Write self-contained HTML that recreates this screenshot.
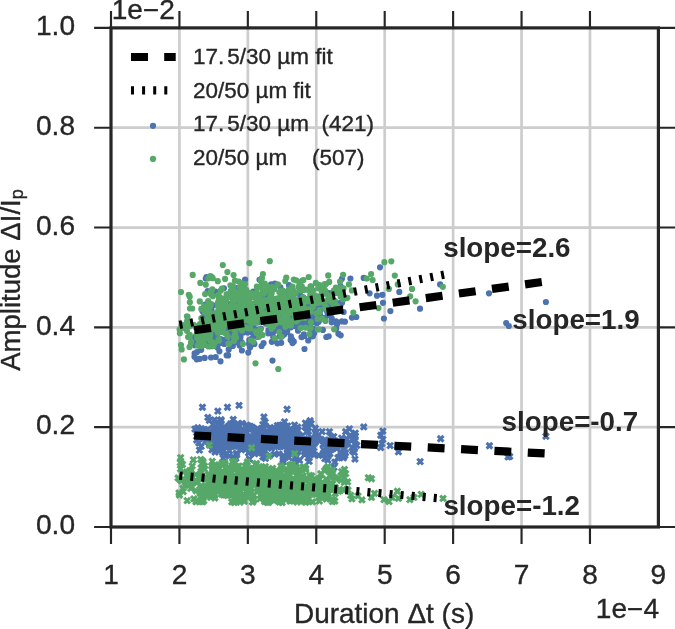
<!DOCTYPE html>
<html><head><meta charset="utf-8"><title>plot</title>
<style>html,body{margin:0;padding:0;background:#fff}svg{display:block}</style></head>
<body>
<svg width="675" height="629" viewBox="0 0 675 629" font-family="'Liberation Sans', sans-serif">
<rect width="675" height="629" fill="#fff"/>
<path d="M179.43 27.9 V527.0 M247.85 27.9 V527.0 M316.27 27.9 V527.0 M384.70 27.9 V527.0 M453.12 27.9 V527.0 M521.55 27.9 V527.0 M589.97 27.9 V527.0 M111.0 427.18 H658.4 M111.0 327.36 H658.4 M111.0 227.54 H658.4 M111.0 127.72 H658.4" stroke="#cdcdcd" stroke-width="2.7" fill="none"/>
<path d="M489.0 293.3h0 M545.9 302.0h0 M508.8 326.0h0 M506.2 323.0h0 M440.1 284.4h0 M420.0 308.7h0 M399.3 291.9h0 M380.0 267.3h0 M363.7 277.9h0 M350.4 278.5h0 M369.6 293.3h0 M377.0 295.7h0 M382.4 294.8h0 M383.0 302.8h0 M390.4 311.1h0 M383.9 318.5h0 M356.3 317.0h0 M351.9 317.6h0 M205.8 278.5h0 M206.5 277.0h0 M272.5 360.6h0 M220.5 361.3h0 M211.0 357.5h0 M304.5 349.0h0 M197.0 352.0h0 M206.9 321.7h0 M294.3 314.2h0 M293.4 307.1h0 M260.9 311.8h0 M336.7 292.5h0 M270.8 330.9h0 M290.2 303.8h0 M213.2 338.9h0 M264.4 319.3h0 M237.5 296.9h0 M238.7 318.8h0 M310.0 328.8h0 M237.7 302.3h0 M207.2 305.5h0 M248.2 293.2h0 M316.3 310.8h0 M241.3 318.6h0 M285.4 323.1h0 M315.0 322.1h0 M202.5 311.3h0 M287.7 322.1h0 M324.7 317.9h0 M233.9 331.2h0 M288.9 292.5h0 M320.6 301.9h0 M207.9 339.0h0 M278.8 319.6h0 M221.6 320.1h0 M230.7 312.1h0 M228.7 349.4h0 M242.6 310.3h0 M249.7 325.6h0 M289.0 326.1h0 M253.3 327.5h0 M229.8 313.4h0 M303.2 297.3h0 M221.0 325.9h0 M222.6 319.0h0 M252.9 333.6h0 M259.0 314.3h0 M239.3 311.9h0 M249.1 343.9h0 M228.3 333.1h0 M270.1 308.8h0 M250.0 347.6h0 M232.6 330.4h0 M257.9 312.9h0 M301.5 337.0h0 M242.5 329.3h0 M229.8 324.4h0 M279.2 306.4h0 M241.5 342.2h0 M292.4 302.1h0 M251.0 317.9h0 M232.2 307.2h0 M203.2 316.9h0 M216.8 324.5h0 M286.8 305.8h0 M230.4 323.0h0 M279.9 336.4h0 M341.9 321.4h0 M243.4 332.4h0 M213.0 305.4h0 M267.1 295.3h0 M239.0 328.7h0 M286.1 331.4h0 M338.4 333.7h0 M341.9 278.8h0 M308.1 313.2h0 M259.5 279.8h0 M301.1 300.2h0 M211.1 346.2h0 M275.4 303.6h0 M292.7 289.5h0 M231.9 331.0h0 M224.3 344.0h0 M207.7 314.0h0 M253.3 320.1h0 M280.1 327.3h0 M237.4 329.3h0 M256.4 319.3h0 M259.3 320.1h0 M283.5 307.7h0 M232.8 330.1h0 M296.2 324.1h0 M258.6 312.8h0 M247.2 318.3h0 M242.5 307.6h0 M316.9 318.7h0 M271.9 320.8h0 M298.0 330.7h0 M335.1 292.9h0 M204.3 336.4h0 M320.6 310.2h0 M220.5 341.8h0 M281.3 313.6h0 M296.9 306.3h0 M271.8 341.8h0 M265.5 323.2h0 M292.1 339.6h0 M215.4 291.5h0 M225.7 332.9h0 M314.1 333.2h0 M239.7 342.3h0 M283.1 300.4h0 M222.8 304.9h0 M304.6 298.7h0 M271.4 330.2h0 M196.4 340.2h0 M269.1 297.3h0 M273.0 329.2h0 M216.8 334.8h0 M286.4 330.0h0 M251.6 338.8h0 M299.6 300.0h0 M328.8 303.9h0 M212.1 324.6h0 M224.6 311.0h0 M273.8 305.2h0 M207.7 291.1h0 M224.8 326.8h0 M290.7 321.3h0 M281.2 342.8h0 M239.6 295.4h0 M305.1 321.4h0 M204.7 357.9h0 M267.1 323.8h0 M303.0 314.8h0 M332.9 301.1h0 M284.9 304.3h0 M220.5 339.4h0 M322.9 329.9h0 M311.2 318.1h0 M234.2 342.5h0 M280.7 319.7h0 M226.2 319.1h0 M307.0 313.6h0 M263.6 343.0h0 M239.1 341.4h0 M320.0 297.0h0 M272.9 333.1h0 M232.7 313.9h0 M196.4 327.8h0 M225.1 331.3h0 M311.4 336.4h0 M196.8 334.3h0 M201.2 349.8h0 M282.2 320.3h0 M218.8 326.0h0 M229.2 336.0h0 M198.6 340.5h0 M251.9 330.1h0 M249.3 340.2h0 M252.0 324.9h0 M213.1 341.0h0 M277.4 343.3h0 M243.5 328.2h0 M330.6 314.7h0 M331.7 318.3h0 M231.9 331.3h0 M202.2 323.3h0 M306.7 305.9h0 M320.8 304.7h0 M282.3 313.6h0 M237.8 342.6h0 M302.4 313.6h0 M279.4 330.9h0 M311.1 286.6h0 M194.6 353.4h0 M267.9 310.8h0 M250.2 344.6h0 M217.5 347.4h0 M316.2 319.9h0 M205.8 323.1h0 M273.1 311.8h0 M219.3 324.4h0 M241.9 350.5h0 M246.0 306.7h0 M224.9 340.5h0 M285.7 296.1h0 M232.1 297.2h0 M262.0 309.3h0 M258.8 307.3h0 M281.7 334.9h0 M249.7 343.5h0 M231.2 321.8h0 M249.3 308.2h0 M224.1 339.8h0 M304.0 316.5h0 M313.0 328.5h0 M207.6 337.1h0 M295.0 316.0h0 M260.8 317.4h0 M243.1 286.9h0 M283.2 311.4h0 M230.8 318.6h0 M304.6 314.0h0 M291.0 327.3h0 M238.5 332.5h0 M275.6 302.8h0 M226.6 355.3h0 M214.1 344.3h0 M270.0 309.5h0 M327.7 315.2h0 M245.1 279.7h0 M261.9 284.8h0 M264.9 309.2h0 M232.1 340.8h0 M251.4 324.3h0 M295.7 293.5h0 M330.2 297.7h0 M340.3 306.1h0 M235.7 330.3h0 M255.2 333.7h0 M200.9 332.9h0 M336.2 328.6h0 M315.4 308.1h0 M280.4 299.1h0 M273.2 337.0h0 M281.2 316.6h0 M287.2 295.7h0 M245.0 320.7h0 M282.7 325.2h0 M213.9 313.8h0 M302.8 308.3h0 M233.5 323.5h0 M278.0 325.7h0 M215.5 336.7h0 M225.8 324.8h0 M311.8 320.7h0 M223.8 306.8h0 M249.9 309.6h0 M263.5 293.2h0 M215.7 357.0h0 M300.1 295.1h0 M223.9 288.3h0 M263.8 315.3h0 M282.1 320.5h0 M280.4 287.3h0 M247.6 332.4h0 M311.5 321.6h0 M274.6 340.2h0 M319.6 310.1h0 M309.2 304.7h0 M218.8 300.6h0 M244.4 326.4h0 M237.0 329.4h0 M242.6 318.8h0 M275.4 305.7h0 M287.1 316.4h0 M308.6 317.3h0 M216.3 321.3h0 M230.9 303.7h0 M258.7 322.1h0 M199.8 358.8h0 M253.0 330.0h0 M234.6 327.0h0 M312.8 336.2h0 M271.1 308.9h0 M268.4 330.4h0 M339.4 304.1h0 M213.1 328.2h0 M205.0 339.2h0 M263.5 297.9h0 M286.9 330.7h0 M251.4 331.8h0 M314.9 309.8h0 M235.3 312.1h0 M298.0 315.8h0 M290.6 340.0h0 M248.4 312.7h0 M207.4 324.0h0 M267.0 291.4h0 M343.6 312.0h0 M278.4 313.3h0 M294.8 323.6h0 M290.9 336.3h0 M308.2 313.4h0 M238.1 301.6h0 M225.4 341.6h0 M210.5 342.6h0 M337.0 324.2h0 M289.0 285.2h0 M194.5 356.7h0 M318.1 305.9h0 M278.0 330.2h0 M272.5 318.3h0 M230.1 342.0h0 M207.5 309.1h0 M216.9 327.6h0 M268.8 312.6h0 M248.3 352.6h0 M198.7 341.8h0 M194.9 345.3h0 M344.9 321.7h0 M218.2 333.0h0 M293.8 341.7h0 M218.0 325.4h0 M255.0 304.9h0 M284.1 334.5h0 M327.5 312.5h0 M271.1 284.4h0 M197.4 335.4h0 M331.7 322.3h0 M205.2 304.5h0 M252.5 317.5h0 M287.7 319.0h0 M312.2 305.9h0 M303.8 334.4h0 M240.1 308.1h0 M220.7 339.2h0 M311.4 305.9h0 M318.7 321.8h0 M301.9 337.1h0 M256.6 329.5h0 M220.3 342.9h0 M250.1 327.8h0 M291.1 308.3h0 M282.7 303.5h0 M309.3 311.7h0 M268.3 333.3h0 M225.4 333.1h0 M259.4 312.8h0 M277.7 303.3h0 M237.8 328.9h0 M224.4 328.6h0 M207.2 345.2h0 M232.5 321.8h0 M328.3 300.1h0 M281.1 312.1h0 M308.3 311.1h0 M260.8 328.7h0 M198.3 359.0h0 M243.0 318.9h0 M201.3 338.4h0 M316.2 308.7h0 M196.7 359.3h0 M253.2 291.6h0 M269.0 318.3h0 M292.7 321.0h0 M329.0 293.2h0 M250.0 313.1h0 M263.3 309.0h0 M231.2 293.9h0 M215.2 338.6h0 M322.4 292.0h0 M303.2 319.5h0 M256.7 317.5h0 M229.3 311.5h0 M259.5 331.1h0 M293.6 312.3h0 M201.2 323.9h0 M236.5 324.9h0 M243.9 316.1h0 M267.6 313.4h0 M218.5 311.2h0 M308.2 340.5h0 M257.4 312.0h0 M317.9 296.9h0 M228.4 321.5h0 M292.1 320.1h0 M255.5 322.6h0 M304.8 302.3h0 M279.1 308.8h0 M328.7 336.3h0 M231.5 309.9h0 M239.9 324.5h0 M271.1 308.3h0 M228.1 355.4h0 M254.4 343.9h0 M238.2 315.3h0 M261.6 346.0h0 M230.9 314.7h0 M204.0 329.5h0 M290.0 315.0h0 M244.5 318.1h0 M247.2 319.0h0 M312.1 308.2h0 M276.1 324.3h0 M224.9 326.9h0 M271.3 312.9h0 M281.8 302.8h0 M280.1 310.0h0 M332.7 306.3h0 M282.4 327.7h0 M261.7 317.7h0 M300.9 321.1h0 M242.0 309.8h0 M336.1 321.3h0 M262.1 306.3h0 M280.9 331.7h0 M274.3 309.6h0 M236.5 288.2h0 M250.4 296.0h0 M279.0 331.6h0 M308.3 319.3h0 M237.4 338.1h0 M291.0 319.2h0 M254.3 334.6h0 M304.2 335.9h0 M309.7 308.6h0 M243.1 320.6h0 M240.8 326.2h0 M270.3 311.1h0 M340.5 286.2h0 M212.4 328.2h0 M300.2 324.2h0 M308.8 303.4h0 M250.7 345.8h0 M253.3 311.3h0 M238.5 335.4h0 M316.8 323.3h0 M327.5 310.4h0 M324.0 291.9h0 M273.2 329.4h0 M276.4 305.9h0 M238.5 318.5h0 M233.5 320.7h0 M264.2 307.7h0 M219.4 351.3h0 M239.6 345.4h0 M310.5 324.0h0 M303.0 324.4h0 M339.4 303.1h0 M308.5 323.6h0 M331.4 293.3h0 M202.6 329.1h0 M310.3 323.1h0 M235.6 336.7h0 M251.8 316.3h0 M292.5 343.1h0 M340.7 335.3h0 M259.0 333.6h0 M270.2 311.0h0 M231.2 322.4h0 M307.1 314.0h0 M320.2 315.3h0 M209.4 327.3h0 M294.4 320.5h0 M284.3 333.5h0 M272.1 308.0h0 M248.6 322.8h0 M227.4 326.9h0 M242.7 317.7h0 M339.3 303.3h0 M307.3 309.2h0 M217.8 324.0h0 M236.7 332.9h0 M282.5 335.8h0 M285.2 313.0h0 M274.8 283.6h0 M235.8 309.5h0 M237.3 327.4h0 M225.3 317.2h0 M297.2 326.2h0 M276.1 313.6h0 M257.5 336.8h0 M277.8 316.7h0 M241.8 294.4h0 M246.5 311.8h0 M287.8 297.4h0 M295.6 326.2h0 M325.3 320.3h0 M279.1 318.9h0 M311.0 307.0h0 M206.9 336.9h0 M266.9 306.1h0 M241.5 331.6h0 M211.6 310.8h0 M293.4 303.8h0 M217.0 346.7h0 M224.6 317.9h0 M314.4 316.3h0 M221.5 312.5h0 M287.2 324.4h0 M215.0 325.7h0 M268.0 312.4h0 M194.7 337.4h0 M207.9 307.4h0 M214.0 328.9h0 M331.5 312.7h0 M318.1 300.5h0 M241.9 320.3h0 M250.6 340.5h0 M325.7 304.8h0 M258.3 331.8h0 M292.4 319.6h0 M240.5 337.1h0 M280.0 309.9h0 M232.8 345.9h0 M287.2 332.1h0 M259.1 312.4h0 M299.2 288.0h0 M217.5 344.7h0 M287.3 328.7h0 M326.3 337.0h0 M229.3 334.9h0 M239.4 335.5h0 M259.2 312.5h0 M292.0 314.3h0 M342.0 302.8h0 M244.9 331.7h0 M223.3 328.3h0 M312.1 298.6h0 M201.6 336.4h0 M302.4 308.2h0 M215.1 332.2h0 M294.4 304.2h0 M231.3 321.2h0 M244.2 304.6h0 M204.9 324.9h0 M232.5 324.6h0 M230.2 327.1h0 M326.9 310.9h0 M316.8 321.1h0 M230.1 319.9h0 M298.2 306.9h0 M312.9 313.3h0 M278.2 326.0h0 M217.1 333.1h0 M253.1 327.8h0 M289.5 316.7h0" stroke="#4c72b0" stroke-width="6.2" stroke-linecap="round" fill="none"/>
<path d="M543.1 433.4l5.7 5.7m0 -5.7l-5.7 5.7 M486.6 442.9l5.7 5.7m0 -5.7l-5.7 5.7 M505.2 454.1l5.7 5.7m0 -5.7l-5.7 5.7 M506.9 453.6l5.7 5.7m0 -5.7l-5.7 5.7 M437.8 435.9l5.7 5.7m0 -5.7l-5.7 5.7 M417.3 458.8l5.7 5.7m0 -5.7l-5.7 5.7 M360.9 424.1l5.7 5.7m0 -5.7l-5.7 5.7 M380.0 428.2l5.7 5.7m0 -5.7l-5.7 5.7 M377.9 432.4l5.7 5.7m0 -5.7l-5.7 5.7 M380.0 436.5l5.7 5.7m0 -5.7l-5.7 5.7 M379.0 440.8l5.7 5.7m0 -5.7l-5.7 5.7 M377.9 444.8l5.7 5.7m0 -5.7l-5.7 5.7 M387.3 442.8l5.7 5.7m0 -5.7l-5.7 5.7 M395.6 449.0l5.7 5.7m0 -5.7l-5.7 5.7 M199.6 404.4l5.7 5.7m0 -5.7l-5.7 5.7 M224.6 404.4l5.7 5.7m0 -5.7l-5.7 5.7 M236.2 402.5l5.7 5.7m0 -5.7l-5.7 5.7 M215.0 408.3l5.7 5.7m0 -5.7l-5.7 5.7 M284.2 406.4l5.7 5.7m0 -5.7l-5.7 5.7 M261.1 414.1l5.7 5.7m0 -5.7l-5.7 5.7 M307.3 417.9l5.7 5.7m0 -5.7l-5.7 5.7 M331.1 464.5l5.7 5.7m0 -5.7l-5.7 5.7 M340.6 455.1l5.7 5.7m0 -5.7l-5.7 5.7 M196.1 431.4l5.7 5.7m0 -5.7l-5.7 5.7 M216.3 439.8l5.7 5.7m0 -5.7l-5.7 5.7 M319.3 428.8l5.7 5.7m0 -5.7l-5.7 5.7 M261.1 422.4l5.7 5.7m0 -5.7l-5.7 5.7 M249.7 426.0l5.7 5.7m0 -5.7l-5.7 5.7 M258.8 450.2l5.7 5.7m0 -5.7l-5.7 5.7 M241.3 439.0l5.7 5.7m0 -5.7l-5.7 5.7 M249.6 424.5l5.7 5.7m0 -5.7l-5.7 5.7 M352.3 438.0l5.7 5.7m0 -5.7l-5.7 5.7 M337.6 440.0l5.7 5.7m0 -5.7l-5.7 5.7 M196.6 447.3l5.7 5.7m0 -5.7l-5.7 5.7 M336.1 438.2l5.7 5.7m0 -5.7l-5.7 5.7 M260.0 454.0l5.7 5.7m0 -5.7l-5.7 5.7 M287.4 432.9l5.7 5.7m0 -5.7l-5.7 5.7 M219.7 449.5l5.7 5.7m0 -5.7l-5.7 5.7 M293.0 453.0l5.7 5.7m0 -5.7l-5.7 5.7 M349.1 444.8l5.7 5.7m0 -5.7l-5.7 5.7 M239.9 438.0l5.7 5.7m0 -5.7l-5.7 5.7 M232.2 428.1l5.7 5.7m0 -5.7l-5.7 5.7 M234.6 443.1l5.7 5.7m0 -5.7l-5.7 5.7 M328.5 438.7l5.7 5.7m0 -5.7l-5.7 5.7 M293.8 450.1l5.7 5.7m0 -5.7l-5.7 5.7 M218.7 438.8l5.7 5.7m0 -5.7l-5.7 5.7 M284.5 433.8l5.7 5.7m0 -5.7l-5.7 5.7 M210.8 433.3l5.7 5.7m0 -5.7l-5.7 5.7 M266.9 452.5l5.7 5.7m0 -5.7l-5.7 5.7 M253.9 446.4l5.7 5.7m0 -5.7l-5.7 5.7 M213.8 442.6l5.7 5.7m0 -5.7l-5.7 5.7 M317.9 436.6l5.7 5.7m0 -5.7l-5.7 5.7 M278.1 432.4l5.7 5.7m0 -5.7l-5.7 5.7 M237.3 431.4l5.7 5.7m0 -5.7l-5.7 5.7 M219.2 447.5l5.7 5.7m0 -5.7l-5.7 5.7 M290.0 436.9l5.7 5.7m0 -5.7l-5.7 5.7 M214.0 425.4l5.7 5.7m0 -5.7l-5.7 5.7 M263.2 437.8l5.7 5.7m0 -5.7l-5.7 5.7 M211.7 417.1l5.7 5.7m0 -5.7l-5.7 5.7 M200.5 435.6l5.7 5.7m0 -5.7l-5.7 5.7 M226.6 433.3l5.7 5.7m0 -5.7l-5.7 5.7 M322.0 455.8l5.7 5.7m0 -5.7l-5.7 5.7 M248.5 425.4l5.7 5.7m0 -5.7l-5.7 5.7 M266.5 431.4l5.7 5.7m0 -5.7l-5.7 5.7 M304.5 449.6l5.7 5.7m0 -5.7l-5.7 5.7 M316.0 437.7l5.7 5.7m0 -5.7l-5.7 5.7 M227.5 429.6l5.7 5.7m0 -5.7l-5.7 5.7 M216.8 446.5l5.7 5.7m0 -5.7l-5.7 5.7 M226.6 447.9l5.7 5.7m0 -5.7l-5.7 5.7 M241.0 432.8l5.7 5.7m0 -5.7l-5.7 5.7 M212.2 427.3l5.7 5.7m0 -5.7l-5.7 5.7 M274.3 432.9l5.7 5.7m0 -5.7l-5.7 5.7 M281.0 429.8l5.7 5.7m0 -5.7l-5.7 5.7 M230.4 416.6l5.7 5.7m0 -5.7l-5.7 5.7 M284.6 441.2l5.7 5.7m0 -5.7l-5.7 5.7 M294.9 427.1l5.7 5.7m0 -5.7l-5.7 5.7 M224.4 439.4l5.7 5.7m0 -5.7l-5.7 5.7 M279.4 429.8l5.7 5.7m0 -5.7l-5.7 5.7 M229.0 421.0l5.7 5.7m0 -5.7l-5.7 5.7 M344.0 441.1l5.7 5.7m0 -5.7l-5.7 5.7 M260.5 445.3l5.7 5.7m0 -5.7l-5.7 5.7 M262.7 430.1l5.7 5.7m0 -5.7l-5.7 5.7 M307.2 451.0l5.7 5.7m0 -5.7l-5.7 5.7 M247.9 448.6l5.7 5.7m0 -5.7l-5.7 5.7 M338.8 435.2l5.7 5.7m0 -5.7l-5.7 5.7 M212.2 449.2l5.7 5.7m0 -5.7l-5.7 5.7 M288.3 427.8l5.7 5.7m0 -5.7l-5.7 5.7 M238.2 443.2l5.7 5.7m0 -5.7l-5.7 5.7 M352.4 430.2l5.7 5.7m0 -5.7l-5.7 5.7 M226.9 426.9l5.7 5.7m0 -5.7l-5.7 5.7 M291.8 459.3l5.7 5.7m0 -5.7l-5.7 5.7 M280.3 459.0l5.7 5.7m0 -5.7l-5.7 5.7 M286.1 454.6l5.7 5.7m0 -5.7l-5.7 5.7 M252.0 450.9l5.7 5.7m0 -5.7l-5.7 5.7 M205.4 433.3l5.7 5.7m0 -5.7l-5.7 5.7 M224.8 436.6l5.7 5.7m0 -5.7l-5.7 5.7 M274.4 432.0l5.7 5.7m0 -5.7l-5.7 5.7 M220.4 450.8l5.7 5.7m0 -5.7l-5.7 5.7 M275.2 443.7l5.7 5.7m0 -5.7l-5.7 5.7 M264.1 429.8l5.7 5.7m0 -5.7l-5.7 5.7 M239.1 427.4l5.7 5.7m0 -5.7l-5.7 5.7 M209.1 438.0l5.7 5.7m0 -5.7l-5.7 5.7 M316.0 452.6l5.7 5.7m0 -5.7l-5.7 5.7 M297.5 440.0l5.7 5.7m0 -5.7l-5.7 5.7 M232.3 436.2l5.7 5.7m0 -5.7l-5.7 5.7 M333.9 445.8l5.7 5.7m0 -5.7l-5.7 5.7 M328.6 446.2l5.7 5.7m0 -5.7l-5.7 5.7 M220.3 455.3l5.7 5.7m0 -5.7l-5.7 5.7 M205.0 414.6l5.7 5.7m0 -5.7l-5.7 5.7 M296.3 433.4l5.7 5.7m0 -5.7l-5.7 5.7 M275.3 428.0l5.7 5.7m0 -5.7l-5.7 5.7 M226.3 441.8l5.7 5.7m0 -5.7l-5.7 5.7 M279.6 430.6l5.7 5.7m0 -5.7l-5.7 5.7 M276.4 439.2l5.7 5.7m0 -5.7l-5.7 5.7 M342.7 450.1l5.7 5.7m0 -5.7l-5.7 5.7 M330.9 433.8l5.7 5.7m0 -5.7l-5.7 5.7 M252.8 434.8l5.7 5.7m0 -5.7l-5.7 5.7 M238.7 447.0l5.7 5.7m0 -5.7l-5.7 5.7 M325.1 447.9l5.7 5.7m0 -5.7l-5.7 5.7 M230.3 435.6l5.7 5.7m0 -5.7l-5.7 5.7 M224.5 426.4l5.7 5.7m0 -5.7l-5.7 5.7 M220.6 439.3l5.7 5.7m0 -5.7l-5.7 5.7 M289.2 440.8l5.7 5.7m0 -5.7l-5.7 5.7 M224.3 425.9l5.7 5.7m0 -5.7l-5.7 5.7 M274.4 429.7l5.7 5.7m0 -5.7l-5.7 5.7 M261.8 437.3l5.7 5.7m0 -5.7l-5.7 5.7 M352.4 441.1l5.7 5.7m0 -5.7l-5.7 5.7 M208.4 434.8l5.7 5.7m0 -5.7l-5.7 5.7 M341.8 442.3l5.7 5.7m0 -5.7l-5.7 5.7 M231.0 420.7l5.7 5.7m0 -5.7l-5.7 5.7 M241.3 436.0l5.7 5.7m0 -5.7l-5.7 5.7 M285.4 442.0l5.7 5.7m0 -5.7l-5.7 5.7 M298.2 438.4l5.7 5.7m0 -5.7l-5.7 5.7 M279.1 422.4l5.7 5.7m0 -5.7l-5.7 5.7 M205.6 438.8l5.7 5.7m0 -5.7l-5.7 5.7 M266.6 425.4l5.7 5.7m0 -5.7l-5.7 5.7 M234.0 423.2l5.7 5.7m0 -5.7l-5.7 5.7 M257.7 446.7l5.7 5.7m0 -5.7l-5.7 5.7 M328.8 434.4l5.7 5.7m0 -5.7l-5.7 5.7 M308.0 447.1l5.7 5.7m0 -5.7l-5.7 5.7 M226.3 453.2l5.7 5.7m0 -5.7l-5.7 5.7 M273.6 433.1l5.7 5.7m0 -5.7l-5.7 5.7 M249.4 435.1l5.7 5.7m0 -5.7l-5.7 5.7 M343.7 435.8l5.7 5.7m0 -5.7l-5.7 5.7 M222.9 441.3l5.7 5.7m0 -5.7l-5.7 5.7 M260.0 421.8l5.7 5.7m0 -5.7l-5.7 5.7 M248.4 439.6l5.7 5.7m0 -5.7l-5.7 5.7 M222.2 428.6l5.7 5.7m0 -5.7l-5.7 5.7 M335.1 454.9l5.7 5.7m0 -5.7l-5.7 5.7 M268.0 430.1l5.7 5.7m0 -5.7l-5.7 5.7 M253.7 436.4l5.7 5.7m0 -5.7l-5.7 5.7 M330.2 439.3l5.7 5.7m0 -5.7l-5.7 5.7 M272.2 443.6l5.7 5.7m0 -5.7l-5.7 5.7 M324.4 443.3l5.7 5.7m0 -5.7l-5.7 5.7 M225.1 423.8l5.7 5.7m0 -5.7l-5.7 5.7 M222.2 440.8l5.7 5.7m0 -5.7l-5.7 5.7 M275.0 430.9l5.7 5.7m0 -5.7l-5.7 5.7 M210.1 421.7l5.7 5.7m0 -5.7l-5.7 5.7 M330.5 443.9l5.7 5.7m0 -5.7l-5.7 5.7 M245.7 437.8l5.7 5.7m0 -5.7l-5.7 5.7 M327.9 444.7l5.7 5.7m0 -5.7l-5.7 5.7 M217.3 432.0l5.7 5.7m0 -5.7l-5.7 5.7 M226.0 430.3l5.7 5.7m0 -5.7l-5.7 5.7 M240.0 441.8l5.7 5.7m0 -5.7l-5.7 5.7 M237.9 436.4l5.7 5.7m0 -5.7l-5.7 5.7 M274.5 422.7l5.7 5.7m0 -5.7l-5.7 5.7 M229.3 429.7l5.7 5.7m0 -5.7l-5.7 5.7 M333.1 444.9l5.7 5.7m0 -5.7l-5.7 5.7 M281.4 439.9l5.7 5.7m0 -5.7l-5.7 5.7 M236.1 426.8l5.7 5.7m0 -5.7l-5.7 5.7 M263.3 434.8l5.7 5.7m0 -5.7l-5.7 5.7 M272.1 429.4l5.7 5.7m0 -5.7l-5.7 5.7 M287.7 440.8l5.7 5.7m0 -5.7l-5.7 5.7 M227.8 427.5l5.7 5.7m0 -5.7l-5.7 5.7 M352.4 432.9l5.7 5.7m0 -5.7l-5.7 5.7 M301.9 451.8l5.7 5.7m0 -5.7l-5.7 5.7 M193.7 433.5l5.7 5.7m0 -5.7l-5.7 5.7 M290.4 432.5l5.7 5.7m0 -5.7l-5.7 5.7 M217.4 432.7l5.7 5.7m0 -5.7l-5.7 5.7 M351.5 449.7l5.7 5.7m0 -5.7l-5.7 5.7 M216.1 424.2l5.7 5.7m0 -5.7l-5.7 5.7 M308.5 434.7l5.7 5.7m0 -5.7l-5.7 5.7 M256.1 434.5l5.7 5.7m0 -5.7l-5.7 5.7 M284.2 436.9l5.7 5.7m0 -5.7l-5.7 5.7 M260.8 450.2l5.7 5.7m0 -5.7l-5.7 5.7 M328.3 437.0l5.7 5.7m0 -5.7l-5.7 5.7 M217.9 424.6l5.7 5.7m0 -5.7l-5.7 5.7 M312.4 439.6l5.7 5.7m0 -5.7l-5.7 5.7 M291.3 435.3l5.7 5.7m0 -5.7l-5.7 5.7 M260.0 440.6l5.7 5.7m0 -5.7l-5.7 5.7 M271.7 438.3l5.7 5.7m0 -5.7l-5.7 5.7 M354.0 442.5l5.7 5.7m0 -5.7l-5.7 5.7 M231.0 432.8l5.7 5.7m0 -5.7l-5.7 5.7 M219.7 425.7l5.7 5.7m0 -5.7l-5.7 5.7 M322.4 437.1l5.7 5.7m0 -5.7l-5.7 5.7 M294.8 424.3l5.7 5.7m0 -5.7l-5.7 5.7 M287.2 446.1l5.7 5.7m0 -5.7l-5.7 5.7 M256.0 431.6l5.7 5.7m0 -5.7l-5.7 5.7 M260.3 425.0l5.7 5.7m0 -5.7l-5.7 5.7 M233.8 451.9l5.7 5.7m0 -5.7l-5.7 5.7 M305.3 450.2l5.7 5.7m0 -5.7l-5.7 5.7 M210.2 443.7l5.7 5.7m0 -5.7l-5.7 5.7 M328.4 446.7l5.7 5.7m0 -5.7l-5.7 5.7 M231.9 441.7l5.7 5.7m0 -5.7l-5.7 5.7 M209.2 434.6l5.7 5.7m0 -5.7l-5.7 5.7 M272.0 427.1l5.7 5.7m0 -5.7l-5.7 5.7 M341.5 441.3l5.7 5.7m0 -5.7l-5.7 5.7 M292.9 454.9l5.7 5.7m0 -5.7l-5.7 5.7 M226.8 430.4l5.7 5.7m0 -5.7l-5.7 5.7 M276.5 427.6l5.7 5.7m0 -5.7l-5.7 5.7 M262.6 455.5l5.7 5.7m0 -5.7l-5.7 5.7 M288.2 431.5l5.7 5.7m0 -5.7l-5.7 5.7 M234.1 442.7l5.7 5.7m0 -5.7l-5.7 5.7 M289.9 427.2l5.7 5.7m0 -5.7l-5.7 5.7 M224.1 437.0l5.7 5.7m0 -5.7l-5.7 5.7 M305.4 435.9l5.7 5.7m0 -5.7l-5.7 5.7 M326.6 428.9l5.7 5.7m0 -5.7l-5.7 5.7 M311.4 436.6l5.7 5.7m0 -5.7l-5.7 5.7 M209.8 440.0l5.7 5.7m0 -5.7l-5.7 5.7 M311.2 452.1l5.7 5.7m0 -5.7l-5.7 5.7 M205.8 439.5l5.7 5.7m0 -5.7l-5.7 5.7 M254.1 441.8l5.7 5.7m0 -5.7l-5.7 5.7 M345.2 440.5l5.7 5.7m0 -5.7l-5.7 5.7 M267.0 430.9l5.7 5.7m0 -5.7l-5.7 5.7 M213.3 431.7l5.7 5.7m0 -5.7l-5.7 5.7 M279.6 422.4l5.7 5.7m0 -5.7l-5.7 5.7 M227.0 428.1l5.7 5.7m0 -5.7l-5.7 5.7 M249.4 442.7l5.7 5.7m0 -5.7l-5.7 5.7 M349.6 448.1l5.7 5.7m0 -5.7l-5.7 5.7 M245.0 438.7l5.7 5.7m0 -5.7l-5.7 5.7 M295.5 434.0l5.7 5.7m0 -5.7l-5.7 5.7 M196.5 430.1l5.7 5.7m0 -5.7l-5.7 5.7 M310.3 448.6l5.7 5.7m0 -5.7l-5.7 5.7 M325.9 442.1l5.7 5.7m0 -5.7l-5.7 5.7 M198.3 443.6l5.7 5.7m0 -5.7l-5.7 5.7 M220.1 431.0l5.7 5.7m0 -5.7l-5.7 5.7 M230.4 454.9l5.7 5.7m0 -5.7l-5.7 5.7 M315.8 432.1l5.7 5.7m0 -5.7l-5.7 5.7 M281.7 419.0l5.7 5.7m0 -5.7l-5.7 5.7 M218.4 417.6l5.7 5.7m0 -5.7l-5.7 5.7 M216.5 432.8l5.7 5.7m0 -5.7l-5.7 5.7 M205.9 429.9l5.7 5.7m0 -5.7l-5.7 5.7 M216.1 440.5l5.7 5.7m0 -5.7l-5.7 5.7 M271.8 451.2l5.7 5.7m0 -5.7l-5.7 5.7 M300.5 444.7l5.7 5.7m0 -5.7l-5.7 5.7 M208.6 432.8l5.7 5.7m0 -5.7l-5.7 5.7 M302.3 424.2l5.7 5.7m0 -5.7l-5.7 5.7 M267.6 424.7l5.7 5.7m0 -5.7l-5.7 5.7 M291.3 446.4l5.7 5.7m0 -5.7l-5.7 5.7 M258.9 437.7l5.7 5.7m0 -5.7l-5.7 5.7 M323.7 441.5l5.7 5.7m0 -5.7l-5.7 5.7 M236.0 430.4l5.7 5.7m0 -5.7l-5.7 5.7 M280.2 457.1l5.7 5.7m0 -5.7l-5.7 5.7 M203.1 437.6l5.7 5.7m0 -5.7l-5.7 5.7 M284.0 438.1l5.7 5.7m0 -5.7l-5.7 5.7 M227.8 425.0l5.7 5.7m0 -5.7l-5.7 5.7 M306.9 442.3l5.7 5.7m0 -5.7l-5.7 5.7 M264.5 439.0l5.7 5.7m0 -5.7l-5.7 5.7 M277.4 439.9l5.7 5.7m0 -5.7l-5.7 5.7 M304.9 438.1l5.7 5.7m0 -5.7l-5.7 5.7 M277.0 442.2l5.7 5.7m0 -5.7l-5.7 5.7 M280.4 436.0l5.7 5.7m0 -5.7l-5.7 5.7 M220.7 430.7l5.7 5.7m0 -5.7l-5.7 5.7 M320.5 446.7l5.7 5.7m0 -5.7l-5.7 5.7 M233.0 425.5l5.7 5.7m0 -5.7l-5.7 5.7 M271.1 427.8l5.7 5.7m0 -5.7l-5.7 5.7 M305.1 447.3l5.7 5.7m0 -5.7l-5.7 5.7 M254.4 427.9l5.7 5.7m0 -5.7l-5.7 5.7 M327.1 450.8l5.7 5.7m0 -5.7l-5.7 5.7 M227.6 427.2l5.7 5.7m0 -5.7l-5.7 5.7 M253.9 438.9l5.7 5.7m0 -5.7l-5.7 5.7 M260.8 443.2l5.7 5.7m0 -5.7l-5.7 5.7 M281.4 434.6l5.7 5.7m0 -5.7l-5.7 5.7 M316.4 437.9l5.7 5.7m0 -5.7l-5.7 5.7 M254.7 433.4l5.7 5.7m0 -5.7l-5.7 5.7 M338.4 451.5l5.7 5.7m0 -5.7l-5.7 5.7 M260.6 438.4l5.7 5.7m0 -5.7l-5.7 5.7 M298.7 435.8l5.7 5.7m0 -5.7l-5.7 5.7 M340.4 445.9l5.7 5.7m0 -5.7l-5.7 5.7 M342.8 428.9l5.7 5.7m0 -5.7l-5.7 5.7 M317.3 437.5l5.7 5.7m0 -5.7l-5.7 5.7 M264.6 442.7l5.7 5.7m0 -5.7l-5.7 5.7 M192.1 426.2l5.7 5.7m0 -5.7l-5.7 5.7 M274.5 435.1l5.7 5.7m0 -5.7l-5.7 5.7 M227.6 421.1l5.7 5.7m0 -5.7l-5.7 5.7 M296.5 439.1l5.7 5.7m0 -5.7l-5.7 5.7 M225.9 441.0l5.7 5.7m0 -5.7l-5.7 5.7 M224.3 440.5l5.7 5.7m0 -5.7l-5.7 5.7 M288.1 437.7l5.7 5.7m0 -5.7l-5.7 5.7 M301.5 448.9l5.7 5.7m0 -5.7l-5.7 5.7 M246.0 423.2l5.7 5.7m0 -5.7l-5.7 5.7 M325.0 452.8l5.7 5.7m0 -5.7l-5.7 5.7 M285.5 435.0l5.7 5.7m0 -5.7l-5.7 5.7 M287.5 433.6l5.7 5.7m0 -5.7l-5.7 5.7 M242.5 430.8l5.7 5.7m0 -5.7l-5.7 5.7 M232.2 443.6l5.7 5.7m0 -5.7l-5.7 5.7 M226.4 442.8l5.7 5.7m0 -5.7l-5.7 5.7 M252.0 426.4l5.7 5.7m0 -5.7l-5.7 5.7 M242.1 442.4l5.7 5.7m0 -5.7l-5.7 5.7 M320.4 441.8l5.7 5.7m0 -5.7l-5.7 5.7 M240.5 431.8l5.7 5.7m0 -5.7l-5.7 5.7 M347.6 432.6l5.7 5.7m0 -5.7l-5.7 5.7 M257.5 447.6l5.7 5.7m0 -5.7l-5.7 5.7 M209.1 446.9l5.7 5.7m0 -5.7l-5.7 5.7 M284.9 451.5l5.7 5.7m0 -5.7l-5.7 5.7 M319.4 452.4l5.7 5.7m0 -5.7l-5.7 5.7 M297.6 433.2l5.7 5.7m0 -5.7l-5.7 5.7 M237.7 442.2l5.7 5.7m0 -5.7l-5.7 5.7 M308.2 438.3l5.7 5.7m0 -5.7l-5.7 5.7 M266.3 444.1l5.7 5.7m0 -5.7l-5.7 5.7 M249.1 439.0l5.7 5.7m0 -5.7l-5.7 5.7 M283.2 442.6l5.7 5.7m0 -5.7l-5.7 5.7 M228.1 426.3l5.7 5.7m0 -5.7l-5.7 5.7 M248.4 446.8l5.7 5.7m0 -5.7l-5.7 5.7 M234.6 438.7l5.7 5.7m0 -5.7l-5.7 5.7 M219.3 439.2l5.7 5.7m0 -5.7l-5.7 5.7 M260.5 441.0l5.7 5.7m0 -5.7l-5.7 5.7 M313.3 429.2l5.7 5.7m0 -5.7l-5.7 5.7 M287.2 433.5l5.7 5.7m0 -5.7l-5.7 5.7 M273.8 442.2l5.7 5.7m0 -5.7l-5.7 5.7 M249.3 434.3l5.7 5.7m0 -5.7l-5.7 5.7 M278.4 428.6l5.7 5.7m0 -5.7l-5.7 5.7 M216.3 437.3l5.7 5.7m0 -5.7l-5.7 5.7 M243.9 430.3l5.7 5.7m0 -5.7l-5.7 5.7 M284.6 423.1l5.7 5.7m0 -5.7l-5.7 5.7 M251.3 428.0l5.7 5.7m0 -5.7l-5.7 5.7 M204.4 427.0l5.7 5.7m0 -5.7l-5.7 5.7 M277.7 443.8l5.7 5.7m0 -5.7l-5.7 5.7 M295.1 448.5l5.7 5.7m0 -5.7l-5.7 5.7 M280.5 433.6l5.7 5.7m0 -5.7l-5.7 5.7 M239.3 431.8l5.7 5.7m0 -5.7l-5.7 5.7 M338.5 442.9l5.7 5.7m0 -5.7l-5.7 5.7 M195.0 424.9l5.7 5.7m0 -5.7l-5.7 5.7 M303.6 428.9l5.7 5.7m0 -5.7l-5.7 5.7 M255.5 445.9l5.7 5.7m0 -5.7l-5.7 5.7 M223.7 440.5l5.7 5.7m0 -5.7l-5.7 5.7 M216.0 421.0l5.7 5.7m0 -5.7l-5.7 5.7 M294.3 444.3l5.7 5.7m0 -5.7l-5.7 5.7 M253.6 434.1l5.7 5.7m0 -5.7l-5.7 5.7 M299.7 437.3l5.7 5.7m0 -5.7l-5.7 5.7 M280.7 452.7l5.7 5.7m0 -5.7l-5.7 5.7 M275.7 423.5l5.7 5.7m0 -5.7l-5.7 5.7 M325.0 457.3l5.7 5.7m0 -5.7l-5.7 5.7 M289.4 436.2l5.7 5.7m0 -5.7l-5.7 5.7 M233.2 437.0l5.7 5.7m0 -5.7l-5.7 5.7 M268.6 445.4l5.7 5.7m0 -5.7l-5.7 5.7 M241.8 443.3l5.7 5.7m0 -5.7l-5.7 5.7 M250.8 437.5l5.7 5.7m0 -5.7l-5.7 5.7 M349.6 436.9l5.7 5.7m0 -5.7l-5.7 5.7 M237.0 430.4l5.7 5.7m0 -5.7l-5.7 5.7 M211.1 428.2l5.7 5.7m0 -5.7l-5.7 5.7 M228.3 431.0l5.7 5.7m0 -5.7l-5.7 5.7 M242.3 435.9l5.7 5.7m0 -5.7l-5.7 5.7 M291.7 422.2l5.7 5.7m0 -5.7l-5.7 5.7 M233.7 450.3l5.7 5.7m0 -5.7l-5.7 5.7 M276.9 435.6l5.7 5.7m0 -5.7l-5.7 5.7 M284.6 433.8l5.7 5.7m0 -5.7l-5.7 5.7 M306.3 458.6l5.7 5.7m0 -5.7l-5.7 5.7 M261.3 430.7l5.7 5.7m0 -5.7l-5.7 5.7 M195.9 440.0l5.7 5.7m0 -5.7l-5.7 5.7 M305.7 420.3l5.7 5.7m0 -5.7l-5.7 5.7 M271.8 440.2l5.7 5.7m0 -5.7l-5.7 5.7 M213.1 447.4l5.7 5.7m0 -5.7l-5.7 5.7 M296.7 457.4l5.7 5.7m0 -5.7l-5.7 5.7 M245.8 436.9l5.7 5.7m0 -5.7l-5.7 5.7 M202.3 430.4l5.7 5.7m0 -5.7l-5.7 5.7 M293.7 439.5l5.7 5.7m0 -5.7l-5.7 5.7 M210.7 438.1l5.7 5.7m0 -5.7l-5.7 5.7 M276.1 451.0l5.7 5.7m0 -5.7l-5.7 5.7 M258.5 425.6l5.7 5.7m0 -5.7l-5.7 5.7 M206.2 429.6l5.7 5.7m0 -5.7l-5.7 5.7 M239.4 436.6l5.7 5.7m0 -5.7l-5.7 5.7 M237.5 443.5l5.7 5.7m0 -5.7l-5.7 5.7 M320.2 441.6l5.7 5.7m0 -5.7l-5.7 5.7 M274.2 425.2l5.7 5.7m0 -5.7l-5.7 5.7 M218.2 433.6l5.7 5.7m0 -5.7l-5.7 5.7 M207.5 433.5l5.7 5.7m0 -5.7l-5.7 5.7 M240.8 427.0l5.7 5.7m0 -5.7l-5.7 5.7 M229.3 424.3l5.7 5.7m0 -5.7l-5.7 5.7 M312.9 433.7l5.7 5.7m0 -5.7l-5.7 5.7 M352.1 456.2l5.7 5.7m0 -5.7l-5.7 5.7 M235.0 420.7l5.7 5.7m0 -5.7l-5.7 5.7 M211.2 444.4l5.7 5.7m0 -5.7l-5.7 5.7 M292.4 449.8l5.7 5.7m0 -5.7l-5.7 5.7 M305.7 428.5l5.7 5.7m0 -5.7l-5.7 5.7 M284.3 449.9l5.7 5.7m0 -5.7l-5.7 5.7 M214.4 427.1l5.7 5.7m0 -5.7l-5.7 5.7 M221.2 443.9l5.7 5.7m0 -5.7l-5.7 5.7 M312.4 425.4l5.7 5.7m0 -5.7l-5.7 5.7 M229.3 442.1l5.7 5.7m0 -5.7l-5.7 5.7 M277.9 439.0l5.7 5.7m0 -5.7l-5.7 5.7 M262.1 435.8l5.7 5.7m0 -5.7l-5.7 5.7 M322.7 451.3l5.7 5.7m0 -5.7l-5.7 5.7 M212.7 442.9l5.7 5.7m0 -5.7l-5.7 5.7 M276.7 422.5l5.7 5.7m0 -5.7l-5.7 5.7 M260.4 431.9l5.7 5.7m0 -5.7l-5.7 5.7 M285.7 447.0l5.7 5.7m0 -5.7l-5.7 5.7 M213.3 428.2l5.7 5.7m0 -5.7l-5.7 5.7 M233.0 455.6l5.7 5.7m0 -5.7l-5.7 5.7 M303.6 443.2l5.7 5.7m0 -5.7l-5.7 5.7 M293.8 432.4l5.7 5.7m0 -5.7l-5.7 5.7 M308.9 441.6l5.7 5.7m0 -5.7l-5.7 5.7 M201.7 426.8l5.7 5.7m0 -5.7l-5.7 5.7 M200.4 435.7l5.7 5.7m0 -5.7l-5.7 5.7 M206.5 417.5l5.7 5.7m0 -5.7l-5.7 5.7 M278.7 427.0l5.7 5.7m0 -5.7l-5.7 5.7 M240.0 430.5l5.7 5.7m0 -5.7l-5.7 5.7 M261.5 441.8l5.7 5.7m0 -5.7l-5.7 5.7 M238.2 437.8l5.7 5.7m0 -5.7l-5.7 5.7 M247.7 433.4l5.7 5.7m0 -5.7l-5.7 5.7 M233.0 427.6l5.7 5.7m0 -5.7l-5.7 5.7 M245.1 438.8l5.7 5.7m0 -5.7l-5.7 5.7 M292.6 433.8l5.7 5.7m0 -5.7l-5.7 5.7 M295.1 440.0l5.7 5.7m0 -5.7l-5.7 5.7 M244.0 422.3l5.7 5.7m0 -5.7l-5.7 5.7 M221.3 439.8l5.7 5.7m0 -5.7l-5.7 5.7 M277.7 432.2l5.7 5.7m0 -5.7l-5.7 5.7 M289.4 436.7l5.7 5.7m0 -5.7l-5.7 5.7 M229.8 421.3l5.7 5.7m0 -5.7l-5.7 5.7 M294.9 446.3l5.7 5.7m0 -5.7l-5.7 5.7 M218.6 429.8l5.7 5.7m0 -5.7l-5.7 5.7 M282.0 438.8l5.7 5.7m0 -5.7l-5.7 5.7 M325.0 437.5l5.7 5.7m0 -5.7l-5.7 5.7 M193.8 437.2l5.7 5.7m0 -5.7l-5.7 5.7 M218.2 416.9l5.7 5.7m0 -5.7l-5.7 5.7 M270.0 442.6l5.7 5.7m0 -5.7l-5.7 5.7 M231.7 438.1l5.7 5.7m0 -5.7l-5.7 5.7 M297.3 433.6l5.7 5.7m0 -5.7l-5.7 5.7 M341.6 446.7l5.7 5.7m0 -5.7l-5.7 5.7 M279.7 435.3l5.7 5.7m0 -5.7l-5.7 5.7 M288.1 435.2l5.7 5.7m0 -5.7l-5.7 5.7 M220.1 448.4l5.7 5.7m0 -5.7l-5.7 5.7 M218.6 434.9l5.7 5.7m0 -5.7l-5.7 5.7 M265.5 432.1l5.7 5.7m0 -5.7l-5.7 5.7 M199.5 433.7l5.7 5.7m0 -5.7l-5.7 5.7 M308.3 420.8l5.7 5.7m0 -5.7l-5.7 5.7 M313.5 433.9l5.7 5.7m0 -5.7l-5.7 5.7 M217.2 441.4l5.7 5.7m0 -5.7l-5.7 5.7 M242.8 440.3l5.7 5.7m0 -5.7l-5.7 5.7 M256.6 436.3l5.7 5.7m0 -5.7l-5.7 5.7 M305.5 436.2l5.7 5.7m0 -5.7l-5.7 5.7 M302.6 420.3l5.7 5.7m0 -5.7l-5.7 5.7 M234.8 439.3l5.7 5.7m0 -5.7l-5.7 5.7 M286.8 450.2l5.7 5.7m0 -5.7l-5.7 5.7 M226.2 423.1l5.7 5.7m0 -5.7l-5.7 5.7 M289.0 433.2l5.7 5.7m0 -5.7l-5.7 5.7 M280.1 443.3l5.7 5.7m0 -5.7l-5.7 5.7 M282.5 439.5l5.7 5.7m0 -5.7l-5.7 5.7 M337.6 453.2l5.7 5.7m0 -5.7l-5.7 5.7 M279.8 436.2l5.7 5.7m0 -5.7l-5.7 5.7 M251.7 444.3l5.7 5.7m0 -5.7l-5.7 5.7 M242.0 429.3l5.7 5.7m0 -5.7l-5.7 5.7 M266.8 441.7l5.7 5.7m0 -5.7l-5.7 5.7 M230.3 426.9l5.7 5.7m0 -5.7l-5.7 5.7 M282.1 427.1l5.7 5.7m0 -5.7l-5.7 5.7 M245.8 439.3l5.7 5.7m0 -5.7l-5.7 5.7 M272.0 427.2l5.7 5.7m0 -5.7l-5.7 5.7 M306.1 437.1l5.7 5.7m0 -5.7l-5.7 5.7 M342.0 452.7l5.7 5.7m0 -5.7l-5.7 5.7 M252.3 448.7l5.7 5.7m0 -5.7l-5.7 5.7 M224.2 425.8l5.7 5.7m0 -5.7l-5.7 5.7 M234.0 423.7l5.7 5.7m0 -5.7l-5.7 5.7 M239.4 420.5l5.7 5.7m0 -5.7l-5.7 5.7 M240.4 427.2l5.7 5.7m0 -5.7l-5.7 5.7 M294.0 440.5l5.7 5.7m0 -5.7l-5.7 5.7 M249.6 440.7l5.7 5.7m0 -5.7l-5.7 5.7 M247.6 423.5l5.7 5.7m0 -5.7l-5.7 5.7 M224.1 440.0l5.7 5.7m0 -5.7l-5.7 5.7 M291.2 432.9l5.7 5.7m0 -5.7l-5.7 5.7 M351.7 444.8l5.7 5.7m0 -5.7l-5.7 5.7 M251.4 443.1l5.7 5.7m0 -5.7l-5.7 5.7 M286.6 428.0l5.7 5.7m0 -5.7l-5.7 5.7 M333.0 442.2l5.7 5.7m0 -5.7l-5.7 5.7 M332.0 459.2l5.7 5.7m0 -5.7l-5.7 5.7 M243.9 424.1l5.7 5.7m0 -5.7l-5.7 5.7 M222.9 435.2l5.7 5.7m0 -5.7l-5.7 5.7 M281.5 440.0l5.7 5.7m0 -5.7l-5.7 5.7 M217.1 420.0l5.7 5.7m0 -5.7l-5.7 5.7 M276.9 423.0l5.7 5.7m0 -5.7l-5.7 5.7 M217.9 422.6l5.7 5.7m0 -5.7l-5.7 5.7 M206.8 440.6l5.7 5.7m0 -5.7l-5.7 5.7 M212.5 423.7l5.7 5.7m0 -5.7l-5.7 5.7 M312.5 430.5l5.7 5.7m0 -5.7l-5.7 5.7 M234.3 434.3l5.7 5.7m0 -5.7l-5.7 5.7 M246.6 456.2l5.7 5.7m0 -5.7l-5.7 5.7 M245.6 450.0l5.7 5.7m0 -5.7l-5.7 5.7 M346.6 426.0l5.7 5.7m0 -5.7l-5.7 5.7 M222.2 426.9l5.7 5.7m0 -5.7l-5.7 5.7 M238.7 444.8l5.7 5.7m0 -5.7l-5.7 5.7 M310.9 444.8l5.7 5.7m0 -5.7l-5.7 5.7 M305.2 425.2l5.7 5.7m0 -5.7l-5.7 5.7 M194.6 430.4l5.7 5.7m0 -5.7l-5.7 5.7 M261.7 451.6l5.7 5.7m0 -5.7l-5.7 5.7 M272.7 437.4l5.7 5.7m0 -5.7l-5.7 5.7 M235.6 440.7l5.7 5.7m0 -5.7l-5.7 5.7 M241.8 446.1l5.7 5.7m0 -5.7l-5.7 5.7 M261.1 446.5l5.7 5.7m0 -5.7l-5.7 5.7 M229.9 427.8l5.7 5.7m0 -5.7l-5.7 5.7 M294.6 434.2l5.7 5.7m0 -5.7l-5.7 5.7 M305.2 455.1l5.7 5.7m0 -5.7l-5.7 5.7 M272.2 441.5l5.7 5.7m0 -5.7l-5.7 5.7 M198.5 425.9l5.7 5.7m0 -5.7l-5.7 5.7 M295.4 431.1l5.7 5.7m0 -5.7l-5.7 5.7 M262.3 419.2l5.7 5.7m0 -5.7l-5.7 5.7 M227.6 442.7l5.7 5.7m0 -5.7l-5.7 5.7" stroke="#4c72b0" stroke-width="3.0" stroke-linecap="butt" fill="none"/>
<path d="M442.8 286.8h0 M384.4 262.2h0 M391.3 261.3h0 M371.1 274.1h0 M366.7 278.5h0 M372.6 280.0h0 M394.8 275.6h0 M397.8 284.4h0 M388.9 288.9h0 M412.0 288.9h0 M410.2 296.3h0 M415.6 301.3h0 M378.5 308.1h0 M348.9 284.4h0 M351.9 290.4h0 M347.4 297.8h0 M353.3 312.6h0 M222.8 265.0h0 M227.4 272.0h0 M249.4 263.1h0 M269.8 261.2h0 M181.0 292.0h0 M183.9 359.4h0 M181.0 345.0h0 M278.3 369.0h0 M255.5 363.3h0 M277.2 317.5h0 M284.6 310.3h0 M281.9 292.9h0 M263.8 321.3h0 M282.6 318.9h0 M311.8 293.8h0 M284.5 307.7h0 M209.4 339.3h0 M229.6 328.0h0 M287.0 306.5h0 M233.5 301.5h0 M265.1 287.9h0 M280.7 291.0h0 M212.9 296.2h0 M314.1 301.4h0 M300.7 327.9h0 M242.1 313.4h0 M334.1 329.3h0 M215.2 313.4h0 M220.1 298.2h0 M239.9 303.0h0 M223.3 313.1h0 M286.8 314.9h0 M192.7 274.9h0 M257.2 294.2h0 M218.7 339.1h0 M300.8 290.3h0 M187.1 321.0h0 M255.2 308.6h0 M314.1 298.8h0 M252.2 312.0h0 M257.0 294.9h0 M204.8 327.7h0 M341.4 292.2h0 M188.6 325.2h0 M294.8 317.6h0 M287.9 314.2h0 M261.2 310.3h0 M237.0 306.5h0 M302.9 308.1h0 M329.2 281.9h0 M287.1 315.4h0 M266.0 302.1h0 M283.7 312.4h0 M304.6 313.8h0 M282.4 321.7h0 M301.5 318.0h0 M303.1 304.3h0 M231.4 326.3h0 M290.6 311.1h0 M251.8 303.8h0 M246.9 293.6h0 M290.2 322.3h0 M218.0 302.7h0 M199.8 301.4h0 M307.7 301.3h0 M335.8 287.5h0 M228.6 320.3h0 M261.9 278.2h0 M289.3 310.7h0 M309.4 334.0h0 M262.6 335.0h0 M275.2 309.5h0 M226.3 300.5h0 M244.1 299.5h0 M331.2 299.3h0 M295.7 293.2h0 M277.6 301.8h0 M271.6 303.6h0 M240.2 297.8h0 M290.6 303.4h0 M239.0 307.9h0 M283.7 296.4h0 M308.2 298.9h0 M298.3 317.6h0 M224.9 306.7h0 M181.7 349.4h0 M293.8 279.6h0 M234.1 309.1h0 M212.0 277.1h0 M331.0 295.2h0 M211.8 313.4h0 M270.9 320.1h0 M189.2 322.8h0 M261.3 302.6h0 M281.0 297.2h0 M235.5 320.1h0 M317.0 303.1h0 M223.0 329.1h0 M285.2 311.4h0 M208.3 278.3h0 M276.5 298.7h0 M305.6 327.6h0 M299.5 315.9h0 M218.9 303.7h0 M292.4 289.2h0 M287.5 299.4h0 M282.1 294.3h0 M200.4 326.2h0 M259.0 336.7h0 M306.9 315.0h0 M201.5 335.2h0 M277.7 319.7h0 M302.0 280.8h0 M300.3 308.6h0 M252.7 307.9h0 M239.3 314.9h0 M212.3 289.3h0 M305.4 301.2h0 M341.0 288.6h0 M294.0 310.4h0 M270.8 304.8h0 M293.0 296.8h0 M204.1 306.2h0 M218.0 306.6h0 M246.7 304.2h0 M262.5 288.7h0 M296.2 280.3h0 M189.8 334.9h0 M319.0 329.4h0 M238.1 315.2h0 M200.9 340.3h0 M298.0 313.8h0 M343.2 299.5h0 M284.9 308.7h0 M312.8 305.0h0 M328.2 275.4h0 M223.8 325.5h0 M290.9 293.2h0 M294.1 310.7h0 M240.3 291.6h0 M274.3 289.2h0 M210.3 331.3h0 M260.9 280.4h0 M260.1 316.1h0 M313.1 290.4h0 M303.9 290.1h0 M239.0 307.3h0 M239.9 287.0h0 M253.4 341.8h0 M252.2 323.1h0 M301.0 306.7h0 M219.0 340.7h0 M277.8 320.4h0 M250.9 317.6h0 M266.8 290.8h0 M259.8 286.7h0 M187.0 326.8h0 M290.7 303.8h0 M215.8 316.3h0 M214.6 343.1h0 M251.0 340.5h0 M208.2 301.0h0 M250.1 307.8h0 M277.0 313.5h0 M280.9 300.6h0 M286.9 295.0h0 M267.0 322.6h0 M308.7 277.0h0 M340.7 296.7h0 M271.6 318.4h0 M299.6 284.6h0 M251.1 294.4h0 M203.3 322.3h0 M289.3 304.0h0 M200.0 324.2h0 M233.6 300.0h0 M270.5 291.0h0 M277.2 319.3h0 M241.2 301.3h0 M323.8 287.7h0 M211.3 304.1h0 M284.5 298.0h0 M301.9 286.6h0 M246.0 313.8h0 M245.6 327.3h0 M214.5 325.9h0 M285.0 305.9h0 M205.9 306.4h0 M229.5 295.2h0 M205.1 294.1h0 M241.0 306.1h0 M190.0 308.5h0 M327.4 309.3h0 M226.6 323.0h0 M299.7 302.1h0 M270.3 296.6h0 M221.9 288.7h0 M279.2 332.1h0 M235.4 313.2h0 M252.9 314.4h0 M265.6 302.5h0 M317.6 319.1h0 M299.6 301.5h0 M205.1 333.2h0 M223.8 322.0h0 M236.9 317.7h0 M247.5 293.8h0 M238.3 312.2h0 M255.2 295.7h0 M255.6 331.3h0 M298.3 304.1h0 M298.5 319.6h0 M256.4 320.3h0 M186.9 330.8h0 M342.5 290.0h0 M214.3 318.7h0 M293.3 306.1h0 M188.1 337.1h0 M222.3 310.6h0 M245.0 284.2h0 M237.0 308.9h0 M315.3 295.9h0 M212.1 314.9h0 M325.5 320.9h0 M286.3 326.1h0 M213.9 324.2h0 M208.5 328.3h0 M209.0 311.5h0 M258.9 296.4h0 M276.6 315.0h0 M333.8 290.5h0 M218.5 322.4h0 M272.0 308.8h0 M250.2 328.5h0 M195.4 326.8h0 M268.1 288.3h0 M236.0 337.6h0 M275.0 309.5h0 M294.1 302.4h0 M209.4 320.6h0 M211.8 295.2h0 M226.6 294.3h0 M225.1 318.0h0 M241.5 295.0h0 M298.5 309.0h0 M325.4 308.1h0 M246.6 292.6h0 M274.5 308.1h0 M218.3 306.5h0 M199.1 342.7h0 M273.1 327.1h0 M224.2 300.0h0 M256.6 292.8h0 M294.3 312.3h0 M245.7 289.7h0 M220.9 323.6h0 M296.3 321.5h0 M293.6 302.7h0 M280.3 296.1h0 M234.2 329.3h0 M279.4 292.3h0 M230.8 318.1h0 M240.9 298.3h0 M222.5 308.1h0 M204.4 344.6h0 M197.6 345.6h0 M281.8 301.4h0 M276.1 309.8h0 M269.9 289.6h0 M204.4 321.0h0 M227.6 336.5h0 M241.3 283.0h0 M197.1 338.1h0 M262.9 320.4h0 M226.3 333.8h0 M205.8 284.7h0 M257.5 287.9h0 M234.9 319.9h0 M202.2 345.6h0 M260.7 294.0h0 M292.4 286.5h0 M204.7 335.1h0 M256.2 322.3h0 M319.0 302.4h0 M266.9 306.1h0 M272.3 306.1h0 M194.1 325.1h0 M319.3 312.6h0 M324.3 301.7h0 M267.4 289.6h0 M227.6 306.9h0 M233.6 275.0h0 M224.7 313.1h0 M234.9 321.5h0 M342.2 290.2h0 M234.4 291.0h0 M179.9 333.2h0 M241.3 308.6h0 M340.0 281.5h0 M334.7 290.6h0 M313.8 303.0h0 M274.7 338.0h0 M246.2 307.7h0 M285.3 326.8h0 M189.5 347.0h0 M308.9 309.3h0 M242.0 330.4h0 M301.2 311.1h0 M285.1 309.4h0 M266.1 313.0h0 M313.1 302.3h0 M270.3 297.3h0 M222.5 332.1h0 M227.3 294.4h0 M273.7 324.8h0 M275.7 323.8h0 M293.5 320.7h0 M271.0 298.7h0 M281.5 310.9h0 M191.0 342.7h0 M253.5 312.3h0 M188.8 294.8h0 M298.8 286.7h0 M343.5 288.4h0 M293.0 308.1h0 M267.5 317.7h0 M307.0 300.7h0 M324.8 284.1h0 M295.2 318.0h0 M228.9 309.7h0 M309.9 289.9h0 M287.2 299.8h0 M237.4 296.9h0 M286.0 308.2h0 M240.0 318.0h0 M284.9 314.3h0 M278.9 306.4h0 M244.0 300.0h0 M248.2 307.5h0 M250.3 319.8h0 M267.9 300.0h0 M218.6 294.8h0 M211.2 320.9h0 M254.7 315.7h0 M187.5 316.5h0 M234.9 280.7h0 M213.7 329.2h0 M189.6 337.3h0 M321.0 289.8h0 M262.9 274.0h0 M322.2 318.7h0 M256.6 292.9h0 M334.4 306.1h0 M203.7 336.0h0 M285.3 281.1h0 M222.8 329.3h0 M235.2 333.6h0 M246.4 290.2h0 M289.4 295.5h0 M212.5 324.2h0 M206.3 311.9h0 M321.4 294.4h0 M288.8 289.6h0 M223.0 327.6h0 M328.4 311.2h0 M316.9 298.9h0 M217.8 332.7h0 M281.4 311.4h0 M293.1 313.3h0 M325.9 306.8h0 M179.6 329.6h0 M256.7 312.9h0 M201.3 308.9h0 M213.5 346.0h0 M295.7 299.8h0 M254.9 319.3h0 M314.5 296.6h0 M310.5 311.7h0 M234.0 341.0h0 M325.7 293.3h0 M214.6 322.7h0 M218.5 314.9h0 M250.5 298.1h0 M231.6 316.2h0 M319.6 310.0h0 M184.8 328.3h0 M318.3 288.0h0 M274.0 309.2h0 M245.9 303.5h0 M189.9 346.6h0 M310.2 295.0h0 M230.8 290.8h0 M238.9 281.6h0 M267.4 286.8h0 M284.5 317.0h0 M304.5 314.9h0 M236.8 292.6h0 M323.4 293.1h0 M301.3 286.4h0 M229.2 343.7h0 M251.7 311.5h0 M324.3 301.8h0 M189.7 326.2h0 M272.4 322.9h0 M263.5 317.3h0 M276.1 311.8h0 M204.4 335.1h0 M295.6 310.4h0 M283.5 314.8h0 M236.1 325.9h0 M257.7 315.0h0 M222.1 298.5h0 M217.0 327.4h0 M294.1 309.4h0 M263.5 304.9h0 M250.0 321.7h0 M286.1 323.3h0 M249.6 310.7h0 M224.3 303.7h0 M213.6 342.8h0 M253.9 308.1h0 M302.3 302.7h0 M262.7 316.3h0 M230.0 296.8h0 M216.0 321.8h0 M299.3 305.3h0 M230.4 285.3h0 M246.8 315.9h0 M260.3 329.6h0 M278.5 310.5h0 M278.2 284.5h0 M271.7 293.2h0 M291.4 297.0h0 M280.9 290.5h0 M222.4 318.6h0 M219.9 301.4h0 M319.6 285.1h0 M337.9 293.0h0 M216.0 322.3h0 M288.3 307.9h0 M201.0 342.4h0 M272.6 311.0h0 M305.5 308.9h0 M241.6 309.3h0 M216.8 315.7h0 M335.1 301.1h0 M245.2 305.7h0 M203.9 339.6h0 M259.8 304.5h0 M202.1 325.9h0 M310.5 286.3h0 M290.9 325.5h0 M250.9 293.0h0 M262.9 305.3h0 M298.4 307.2h0 M186.9 316.3h0 M205.7 323.8h0 M208.5 346.5h0 M252.4 312.2h0 M299.3 312.9h0 M221.6 314.3h0 M232.9 315.8h0 M216.0 318.3h0 M200.0 344.4h0 M256.4 322.7h0 M277.7 284.4h0 M225.1 278.9h0 M246.6 294.9h0 M243.4 295.0h0 M189.9 302.3h0 M192.2 308.5h0 M283.0 290.8h0 M304.6 318.1h0 M328.4 297.1h0 M282.8 308.0h0 M292.1 295.0h0 M247.1 297.0h0 M225.3 313.2h0 M231.8 313.8h0 M340.4 287.9h0 M231.3 320.2h0 M238.1 310.1h0 M236.1 294.9h0 M254.5 311.9h0 M315.8 282.9h0 M305.4 289.5h0 M259.2 300.9h0 M321.6 295.6h0 M210.1 306.4h0 M210.0 335.7h0 M280.7 313.0h0 M266.2 317.9h0 M256.8 286.5h0 M289.6 308.0h0 M202.8 328.0h0 M237.4 314.0h0 M301.6 311.7h0 M205.4 323.7h0 M226.9 313.2h0 M234.0 337.0h0 M219.3 316.8h0 M306.4 310.8h0 M210.9 291.4h0 M215.0 318.1h0 M222.6 298.5h0 M243.7 314.2h0 M280.9 322.3h0 M308.2 290.0h0 M207.2 333.8h0 M266.5 315.6h0 M286.3 277.5h0 M246.3 301.3h0 M233.9 296.5h0 M323.7 303.1h0 M243.0 327.8h0 M275.3 310.0h0 M343.1 274.8h0 M261.8 308.2h0 M182.4 324.8h0 M212.7 278.2h0 M228.4 343.6h0 M231.1 295.2h0 M231.9 304.1h0 M296.5 302.0h0 M271.4 302.9h0 M302.8 304.3h0 M219.0 297.8h0 M310.6 328.1h0 M234.1 322.4h0 M276.1 312.3h0 M262.6 316.7h0 M272.0 287.0h0 M256.7 333.2h0 M238.6 317.4h0 M220.9 290.4h0 M274.7 319.9h0 M260.1 315.2h0 M311.4 299.5h0 M271.3 296.5h0 M189.7 296.7h0 M295.8 304.2h0 M280.5 304.3h0 M219.0 300.7h0 M239.6 308.5h0 M212.7 320.9h0 M218.6 310.0h0 M283.6 319.5h0 M207.9 316.1h0 M281.3 336.9h0 M268.4 315.4h0 M244.9 291.1h0 M317.7 329.5h0 M181.5 325.8h0 M202.0 323.8h0 M236.6 299.7h0 M232.9 299.2h0 M217.8 281.2h0 M239.4 328.3h0 M219.9 321.7h0 M303.5 289.8h0 M226.6 321.6h0 M255.0 297.8h0 M271.6 328.8h0 M272.4 300.5h0 M229.7 310.3h0 M264.0 293.6h0 M235.5 318.7h0 M240.4 318.8h0 M205.0 312.4h0 M329.0 300.6h0 M320.4 300.7h0 M286.5 310.1h0 M233.2 324.9h0 M276.7 307.5h0 M239.4 317.8h0 M200.3 282.9h0 M201.3 318.3h0 M318.0 301.2h0 M337.9 288.7h0 M264.0 300.2h0 M326.0 284.0h0 M286.2 312.9h0 M262.3 317.4h0 M267.7 324.1h0 M287.7 318.3h0 M245.3 320.1h0 M309.0 310.2h0 M325.4 290.8h0 M247.9 328.2h0 M287.3 313.2h0 M271.7 315.9h0 M328.9 300.2h0 M243.0 299.4h0 M273.9 315.7h0 M196.8 334.8h0 M332.1 302.5h0 M220.6 304.6h0 M298.2 300.6h0 M218.1 324.2h0 M336.9 305.8h0 M303.4 280.1h0 M257.4 301.8h0 M244.6 289.3h0 M325.0 284.5h0 M310.9 322.2h0 M210.4 340.6h0 M210.4 276.0h0 M243.5 298.4h0 M240.8 314.8h0 M287.4 308.5h0 M202.2 345.6h0 M263.9 314.4h0 M335.3 289.5h0 M235.1 327.4h0 M200.4 345.9h0 M261.8 306.2h0 M264.8 283.6h0 M233.3 286.6h0 M220.9 321.3h0 M263.2 319.4h0 M303.0 297.4h0 M254.7 308.5h0 M283.7 303.6h0 M289.8 300.7h0 M268.3 290.1h0 M270.1 307.8h0 M305.4 299.0h0 M312.9 307.0h0 M204.9 310.9h0 M216.9 314.5h0 M310.5 309.9h0 M271.9 305.1h0 M282.8 302.5h0 M256.4 300.4h0 M219.1 327.1h0 M210.8 293.9h0 M242.9 343.9h0 M291.0 300.2h0 M316.3 313.3h0 M221.5 305.7h0 M241.7 309.6h0 M282.7 299.7h0" stroke="#55a868" stroke-width="6.2" stroke-linecap="round" fill="none"/>
<path d="M440.2 495.6l5.7 5.7m0 -5.7l-5.7 5.7 M418.4 491.5l5.7 5.7m0 -5.7l-5.7 5.7 M407.0 496.8l5.7 5.7m0 -5.7l-5.7 5.7 M411.1 494.6l5.7 5.7m0 -5.7l-5.7 5.7 M381.1 496.8l5.7 5.7m0 -5.7l-5.7 5.7 M386.2 498.8l5.7 5.7m0 -5.7l-5.7 5.7 M389.3 494.6l5.7 5.7m0 -5.7l-5.7 5.7 M394.5 488.4l5.7 5.7m0 -5.7l-5.7 5.7 M395.6 495.6l5.7 5.7m0 -5.7l-5.7 5.7 M368.6 494.6l5.7 5.7m0 -5.7l-5.7 5.7 M371.7 490.5l5.7 5.7m0 -5.7l-5.7 5.7 M347.8 492.5l5.7 5.7m0 -5.7l-5.7 5.7 M365.5 474.9l5.7 5.7m0 -5.7l-5.7 5.7 M368.6 475.9l5.7 5.7m0 -5.7l-5.7 5.7 M341.6 466.6l5.7 5.7m0 -5.7l-5.7 5.7 M342.8 470.8l5.7 5.7m0 -5.7l-5.7 5.7 M341.6 474.9l5.7 5.7m0 -5.7l-5.7 5.7 M344.8 479.1l5.7 5.7m0 -5.7l-5.7 5.7 M345.1 487.1l5.7 5.7m0 -5.7l-5.7 5.7 M349.1 496.1l5.7 5.7m0 -5.7l-5.7 5.7 M355.1 493.1l5.7 5.7m0 -5.7l-5.7 5.7 M359.1 497.1l5.7 5.7m0 -5.7l-5.7 5.7 M206.5 442.2l5.7 5.7m0 -5.7l-5.7 5.7 M248.8 444.9l5.7 5.7m0 -5.7l-5.7 5.7 M291.9 450.8l5.7 5.7m0 -5.7l-5.7 5.7 M266.1 453.4l5.7 5.7m0 -5.7l-5.7 5.7 M175.2 475.1l5.7 5.7m0 -5.7l-5.7 5.7 M176.2 490.1l5.7 5.7m0 -5.7l-5.7 5.7 M325.2 494.2l5.7 5.7m0 -5.7l-5.7 5.7 M338.2 472.8l5.7 5.7m0 -5.7l-5.7 5.7 M223.4 474.9l5.7 5.7m0 -5.7l-5.7 5.7 M220.7 492.2l5.7 5.7m0 -5.7l-5.7 5.7 M307.0 481.2l5.7 5.7m0 -5.7l-5.7 5.7 M272.8 482.6l5.7 5.7m0 -5.7l-5.7 5.7 M238.9 495.0l5.7 5.7m0 -5.7l-5.7 5.7 M276.8 468.0l5.7 5.7m0 -5.7l-5.7 5.7 M282.6 492.3l5.7 5.7m0 -5.7l-5.7 5.7 M248.9 480.2l5.7 5.7m0 -5.7l-5.7 5.7 M193.1 499.1l5.7 5.7m0 -5.7l-5.7 5.7 M204.2 492.4l5.7 5.7m0 -5.7l-5.7 5.7 M185.7 471.5l5.7 5.7m0 -5.7l-5.7 5.7 M216.4 470.0l5.7 5.7m0 -5.7l-5.7 5.7 M278.8 490.3l5.7 5.7m0 -5.7l-5.7 5.7 M283.0 483.9l5.7 5.7m0 -5.7l-5.7 5.7 M299.2 480.2l5.7 5.7m0 -5.7l-5.7 5.7 M250.8 497.3l5.7 5.7m0 -5.7l-5.7 5.7 M198.5 469.9l5.7 5.7m0 -5.7l-5.7 5.7 M271.0 491.2l5.7 5.7m0 -5.7l-5.7 5.7 M249.2 472.1l5.7 5.7m0 -5.7l-5.7 5.7 M318.0 470.9l5.7 5.7m0 -5.7l-5.7 5.7 M297.3 475.6l5.7 5.7m0 -5.7l-5.7 5.7 M186.9 467.9l5.7 5.7m0 -5.7l-5.7 5.7 M319.9 481.9l5.7 5.7m0 -5.7l-5.7 5.7 M329.9 467.2l5.7 5.7m0 -5.7l-5.7 5.7 M285.2 494.7l5.7 5.7m0 -5.7l-5.7 5.7 M193.9 497.7l5.7 5.7m0 -5.7l-5.7 5.7 M283.0 488.2l5.7 5.7m0 -5.7l-5.7 5.7 M208.2 490.8l5.7 5.7m0 -5.7l-5.7 5.7 M217.4 479.0l5.7 5.7m0 -5.7l-5.7 5.7 M312.9 488.5l5.7 5.7m0 -5.7l-5.7 5.7 M233.5 483.4l5.7 5.7m0 -5.7l-5.7 5.7 M302.9 465.6l5.7 5.7m0 -5.7l-5.7 5.7 M185.0 470.4l5.7 5.7m0 -5.7l-5.7 5.7 M330.2 473.6l5.7 5.7m0 -5.7l-5.7 5.7 M278.7 496.1l5.7 5.7m0 -5.7l-5.7 5.7 M214.1 476.0l5.7 5.7m0 -5.7l-5.7 5.7 M204.8 475.6l5.7 5.7m0 -5.7l-5.7 5.7 M269.7 465.5l5.7 5.7m0 -5.7l-5.7 5.7 M238.8 482.4l5.7 5.7m0 -5.7l-5.7 5.7 M231.0 495.9l5.7 5.7m0 -5.7l-5.7 5.7 M208.7 482.2l5.7 5.7m0 -5.7l-5.7 5.7 M269.8 477.7l5.7 5.7m0 -5.7l-5.7 5.7 M209.8 465.3l5.7 5.7m0 -5.7l-5.7 5.7 M219.0 490.9l5.7 5.7m0 -5.7l-5.7 5.7 M195.9 474.0l5.7 5.7m0 -5.7l-5.7 5.7 M315.3 476.0l5.7 5.7m0 -5.7l-5.7 5.7 M318.6 483.6l5.7 5.7m0 -5.7l-5.7 5.7 M299.7 480.5l5.7 5.7m0 -5.7l-5.7 5.7 M323.6 496.3l5.7 5.7m0 -5.7l-5.7 5.7 M268.3 471.1l5.7 5.7m0 -5.7l-5.7 5.7 M230.0 490.0l5.7 5.7m0 -5.7l-5.7 5.7 M210.1 483.8l5.7 5.7m0 -5.7l-5.7 5.7 M318.8 482.1l5.7 5.7m0 -5.7l-5.7 5.7 M265.7 490.1l5.7 5.7m0 -5.7l-5.7 5.7 M226.3 467.3l5.7 5.7m0 -5.7l-5.7 5.7 M274.7 486.6l5.7 5.7m0 -5.7l-5.7 5.7 M294.5 483.3l5.7 5.7m0 -5.7l-5.7 5.7 M288.2 461.7l5.7 5.7m0 -5.7l-5.7 5.7 M216.5 471.0l5.7 5.7m0 -5.7l-5.7 5.7 M301.7 493.8l5.7 5.7m0 -5.7l-5.7 5.7 M215.6 467.9l5.7 5.7m0 -5.7l-5.7 5.7 M307.6 488.6l5.7 5.7m0 -5.7l-5.7 5.7 M234.5 474.2l5.7 5.7m0 -5.7l-5.7 5.7 M250.0 499.2l5.7 5.7m0 -5.7l-5.7 5.7 M198.8 474.3l5.7 5.7m0 -5.7l-5.7 5.7 M305.7 498.6l5.7 5.7m0 -5.7l-5.7 5.7 M264.3 473.6l5.7 5.7m0 -5.7l-5.7 5.7 M299.9 474.7l5.7 5.7m0 -5.7l-5.7 5.7 M230.8 480.2l5.7 5.7m0 -5.7l-5.7 5.7 M323.9 480.9l5.7 5.7m0 -5.7l-5.7 5.7 M314.2 479.8l5.7 5.7m0 -5.7l-5.7 5.7 M193.3 488.0l5.7 5.7m0 -5.7l-5.7 5.7 M261.8 498.8l5.7 5.7m0 -5.7l-5.7 5.7 M291.2 465.5l5.7 5.7m0 -5.7l-5.7 5.7 M322.8 487.3l5.7 5.7m0 -5.7l-5.7 5.7 M318.5 488.2l5.7 5.7m0 -5.7l-5.7 5.7 M284.2 492.1l5.7 5.7m0 -5.7l-5.7 5.7 M302.7 466.7l5.7 5.7m0 -5.7l-5.7 5.7 M328.2 467.9l5.7 5.7m0 -5.7l-5.7 5.7 M244.1 478.8l5.7 5.7m0 -5.7l-5.7 5.7 M203.4 476.1l5.7 5.7m0 -5.7l-5.7 5.7 M194.0 479.7l5.7 5.7m0 -5.7l-5.7 5.7 M234.8 469.6l5.7 5.7m0 -5.7l-5.7 5.7 M244.2 475.4l5.7 5.7m0 -5.7l-5.7 5.7 M232.6 486.8l5.7 5.7m0 -5.7l-5.7 5.7 M268.5 485.6l5.7 5.7m0 -5.7l-5.7 5.7 M263.3 480.6l5.7 5.7m0 -5.7l-5.7 5.7 M286.8 494.6l5.7 5.7m0 -5.7l-5.7 5.7 M193.0 471.7l5.7 5.7m0 -5.7l-5.7 5.7 M293.2 478.2l5.7 5.7m0 -5.7l-5.7 5.7 M253.5 461.8l5.7 5.7m0 -5.7l-5.7 5.7 M182.4 482.7l5.7 5.7m0 -5.7l-5.7 5.7 M210.9 466.9l5.7 5.7m0 -5.7l-5.7 5.7 M180.2 469.1l5.7 5.7m0 -5.7l-5.7 5.7 M201.1 484.4l5.7 5.7m0 -5.7l-5.7 5.7 M285.0 472.9l5.7 5.7m0 -5.7l-5.7 5.7 M278.2 476.6l5.7 5.7m0 -5.7l-5.7 5.7 M229.0 492.0l5.7 5.7m0 -5.7l-5.7 5.7 M228.2 478.8l5.7 5.7m0 -5.7l-5.7 5.7 M294.6 486.4l5.7 5.7m0 -5.7l-5.7 5.7 M294.7 467.2l5.7 5.7m0 -5.7l-5.7 5.7 M318.4 487.9l5.7 5.7m0 -5.7l-5.7 5.7 M315.5 477.2l5.7 5.7m0 -5.7l-5.7 5.7 M184.2 475.5l5.7 5.7m0 -5.7l-5.7 5.7 M274.6 491.5l5.7 5.7m0 -5.7l-5.7 5.7 M226.5 477.2l5.7 5.7m0 -5.7l-5.7 5.7 M332.0 498.2l5.7 5.7m0 -5.7l-5.7 5.7 M243.4 488.6l5.7 5.7m0 -5.7l-5.7 5.7 M272.1 483.8l5.7 5.7m0 -5.7l-5.7 5.7 M198.8 469.2l5.7 5.7m0 -5.7l-5.7 5.7 M323.0 481.3l5.7 5.7m0 -5.7l-5.7 5.7 M199.9 458.3l5.7 5.7m0 -5.7l-5.7 5.7 M220.1 487.4l5.7 5.7m0 -5.7l-5.7 5.7 M211.0 487.3l5.7 5.7m0 -5.7l-5.7 5.7 M217.6 485.3l5.7 5.7m0 -5.7l-5.7 5.7 M289.6 468.2l5.7 5.7m0 -5.7l-5.7 5.7 M329.8 496.5l5.7 5.7m0 -5.7l-5.7 5.7 M288.8 477.8l5.7 5.7m0 -5.7l-5.7 5.7 M256.7 487.4l5.7 5.7m0 -5.7l-5.7 5.7 M186.2 471.6l5.7 5.7m0 -5.7l-5.7 5.7 M225.3 479.6l5.7 5.7m0 -5.7l-5.7 5.7 M260.8 466.1l5.7 5.7m0 -5.7l-5.7 5.7 M273.6 480.4l5.7 5.7m0 -5.7l-5.7 5.7 M240.9 484.1l5.7 5.7m0 -5.7l-5.7 5.7 M218.7 475.0l5.7 5.7m0 -5.7l-5.7 5.7 M176.6 476.3l5.7 5.7m0 -5.7l-5.7 5.7 M296.9 498.1l5.7 5.7m0 -5.7l-5.7 5.7 M239.2 469.2l5.7 5.7m0 -5.7l-5.7 5.7 M290.7 476.7l5.7 5.7m0 -5.7l-5.7 5.7 M249.3 480.5l5.7 5.7m0 -5.7l-5.7 5.7 M244.2 470.0l5.7 5.7m0 -5.7l-5.7 5.7 M287.9 493.1l5.7 5.7m0 -5.7l-5.7 5.7 M200.2 459.7l5.7 5.7m0 -5.7l-5.7 5.7 M207.9 479.0l5.7 5.7m0 -5.7l-5.7 5.7 M249.4 477.7l5.7 5.7m0 -5.7l-5.7 5.7 M297.4 494.7l5.7 5.7m0 -5.7l-5.7 5.7 M268.0 477.7l5.7 5.7m0 -5.7l-5.7 5.7 M276.8 484.4l5.7 5.7m0 -5.7l-5.7 5.7 M224.6 492.8l5.7 5.7m0 -5.7l-5.7 5.7 M248.5 474.9l5.7 5.7m0 -5.7l-5.7 5.7 M205.2 479.3l5.7 5.7m0 -5.7l-5.7 5.7 M300.2 464.6l5.7 5.7m0 -5.7l-5.7 5.7 M282.1 481.9l5.7 5.7m0 -5.7l-5.7 5.7 M294.8 497.4l5.7 5.7m0 -5.7l-5.7 5.7 M337.6 487.4l5.7 5.7m0 -5.7l-5.7 5.7 M335.8 488.4l5.7 5.7m0 -5.7l-5.7 5.7 M244.9 474.0l5.7 5.7m0 -5.7l-5.7 5.7 M243.0 481.4l5.7 5.7m0 -5.7l-5.7 5.7 M223.3 488.1l5.7 5.7m0 -5.7l-5.7 5.7 M228.9 499.1l5.7 5.7m0 -5.7l-5.7 5.7 M180.1 485.4l5.7 5.7m0 -5.7l-5.7 5.7 M264.3 472.0l5.7 5.7m0 -5.7l-5.7 5.7 M240.7 485.6l5.7 5.7m0 -5.7l-5.7 5.7 M257.1 496.0l5.7 5.7m0 -5.7l-5.7 5.7 M300.0 472.9l5.7 5.7m0 -5.7l-5.7 5.7 M283.6 490.3l5.7 5.7m0 -5.7l-5.7 5.7 M176.6 492.2l5.7 5.7m0 -5.7l-5.7 5.7 M211.6 492.9l5.7 5.7m0 -5.7l-5.7 5.7 M229.2 488.1l5.7 5.7m0 -5.7l-5.7 5.7 M236.3 486.1l5.7 5.7m0 -5.7l-5.7 5.7 M199.7 460.3l5.7 5.7m0 -5.7l-5.7 5.7 M182.6 479.6l5.7 5.7m0 -5.7l-5.7 5.7 M288.7 487.6l5.7 5.7m0 -5.7l-5.7 5.7 M273.9 469.9l5.7 5.7m0 -5.7l-5.7 5.7 M326.7 484.7l5.7 5.7m0 -5.7l-5.7 5.7 M215.3 465.8l5.7 5.7m0 -5.7l-5.7 5.7 M227.9 486.3l5.7 5.7m0 -5.7l-5.7 5.7 M242.6 463.4l5.7 5.7m0 -5.7l-5.7 5.7 M248.5 489.6l5.7 5.7m0 -5.7l-5.7 5.7 M199.1 476.3l5.7 5.7m0 -5.7l-5.7 5.7 M323.2 491.2l5.7 5.7m0 -5.7l-5.7 5.7 M180.4 488.8l5.7 5.7m0 -5.7l-5.7 5.7 M285.6 482.4l5.7 5.7m0 -5.7l-5.7 5.7 M322.8 485.6l5.7 5.7m0 -5.7l-5.7 5.7 M293.4 472.7l5.7 5.7m0 -5.7l-5.7 5.7 M265.8 466.4l5.7 5.7m0 -5.7l-5.7 5.7 M244.5 459.1l5.7 5.7m0 -5.7l-5.7 5.7 M226.1 483.7l5.7 5.7m0 -5.7l-5.7 5.7 M297.0 471.0l5.7 5.7m0 -5.7l-5.7 5.7 M285.5 468.5l5.7 5.7m0 -5.7l-5.7 5.7 M268.8 479.8l5.7 5.7m0 -5.7l-5.7 5.7 M296.1 467.3l5.7 5.7m0 -5.7l-5.7 5.7 M239.2 481.3l5.7 5.7m0 -5.7l-5.7 5.7 M327.6 484.1l5.7 5.7m0 -5.7l-5.7 5.7 M233.7 475.0l5.7 5.7m0 -5.7l-5.7 5.7 M271.5 483.1l5.7 5.7m0 -5.7l-5.7 5.7 M198.2 498.4l5.7 5.7m0 -5.7l-5.7 5.7 M296.7 487.6l5.7 5.7m0 -5.7l-5.7 5.7 M323.5 465.5l5.7 5.7m0 -5.7l-5.7 5.7 M268.1 474.9l5.7 5.7m0 -5.7l-5.7 5.7 M250.1 495.2l5.7 5.7m0 -5.7l-5.7 5.7 M313.3 491.4l5.7 5.7m0 -5.7l-5.7 5.7 M178.5 478.0l5.7 5.7m0 -5.7l-5.7 5.7 M232.8 464.2l5.7 5.7m0 -5.7l-5.7 5.7 M218.0 472.4l5.7 5.7m0 -5.7l-5.7 5.7 M203.5 487.3l5.7 5.7m0 -5.7l-5.7 5.7 M209.0 470.9l5.7 5.7m0 -5.7l-5.7 5.7 M211.5 483.5l5.7 5.7m0 -5.7l-5.7 5.7 M313.2 487.8l5.7 5.7m0 -5.7l-5.7 5.7 M211.0 481.6l5.7 5.7m0 -5.7l-5.7 5.7 M237.3 479.7l5.7 5.7m0 -5.7l-5.7 5.7 M289.8 489.1l5.7 5.7m0 -5.7l-5.7 5.7 M256.9 482.7l5.7 5.7m0 -5.7l-5.7 5.7 M189.3 463.2l5.7 5.7m0 -5.7l-5.7 5.7 M200.8 497.8l5.7 5.7m0 -5.7l-5.7 5.7 M261.8 465.3l5.7 5.7m0 -5.7l-5.7 5.7 M177.8 454.7l5.7 5.7m0 -5.7l-5.7 5.7 M300.8 463.7l5.7 5.7m0 -5.7l-5.7 5.7 M296.7 480.1l5.7 5.7m0 -5.7l-5.7 5.7 M206.8 487.9l5.7 5.7m0 -5.7l-5.7 5.7 M214.1 469.7l5.7 5.7m0 -5.7l-5.7 5.7 M223.0 478.6l5.7 5.7m0 -5.7l-5.7 5.7 M208.9 478.3l5.7 5.7m0 -5.7l-5.7 5.7 M223.0 470.0l5.7 5.7m0 -5.7l-5.7 5.7 M199.9 475.0l5.7 5.7m0 -5.7l-5.7 5.7 M324.5 493.2l5.7 5.7m0 -5.7l-5.7 5.7 M284.5 488.3l5.7 5.7m0 -5.7l-5.7 5.7 M212.0 495.2l5.7 5.7m0 -5.7l-5.7 5.7 M224.4 483.0l5.7 5.7m0 -5.7l-5.7 5.7 M290.4 492.4l5.7 5.7m0 -5.7l-5.7 5.7 M242.5 466.8l5.7 5.7m0 -5.7l-5.7 5.7 M251.7 474.0l5.7 5.7m0 -5.7l-5.7 5.7 M303.2 483.4l5.7 5.7m0 -5.7l-5.7 5.7 M269.8 476.9l5.7 5.7m0 -5.7l-5.7 5.7 M232.0 488.4l5.7 5.7m0 -5.7l-5.7 5.7 M296.9 485.3l5.7 5.7m0 -5.7l-5.7 5.7 M302.8 499.6l5.7 5.7m0 -5.7l-5.7 5.7 M242.5 479.1l5.7 5.7m0 -5.7l-5.7 5.7 M224.1 482.2l5.7 5.7m0 -5.7l-5.7 5.7 M218.6 489.0l5.7 5.7m0 -5.7l-5.7 5.7 M268.6 472.1l5.7 5.7m0 -5.7l-5.7 5.7 M188.0 485.5l5.7 5.7m0 -5.7l-5.7 5.7 M270.9 497.7l5.7 5.7m0 -5.7l-5.7 5.7 M206.5 472.0l5.7 5.7m0 -5.7l-5.7 5.7 M222.0 460.3l5.7 5.7m0 -5.7l-5.7 5.7 M273.7 485.7l5.7 5.7m0 -5.7l-5.7 5.7 M189.7 474.4l5.7 5.7m0 -5.7l-5.7 5.7 M265.3 488.1l5.7 5.7m0 -5.7l-5.7 5.7 M199.4 493.8l5.7 5.7m0 -5.7l-5.7 5.7 M325.1 463.8l5.7 5.7m0 -5.7l-5.7 5.7 M209.0 475.2l5.7 5.7m0 -5.7l-5.7 5.7 M272.7 474.1l5.7 5.7m0 -5.7l-5.7 5.7 M258.3 482.4l5.7 5.7m0 -5.7l-5.7 5.7 M329.6 498.8l5.7 5.7m0 -5.7l-5.7 5.7 M288.3 497.7l5.7 5.7m0 -5.7l-5.7 5.7 M296.2 494.5l5.7 5.7m0 -5.7l-5.7 5.7 M239.6 492.9l5.7 5.7m0 -5.7l-5.7 5.7 M200.9 485.3l5.7 5.7m0 -5.7l-5.7 5.7 M217.3 483.5l5.7 5.7m0 -5.7l-5.7 5.7 M223.8 468.9l5.7 5.7m0 -5.7l-5.7 5.7 M177.4 459.8l5.7 5.7m0 -5.7l-5.7 5.7 M311.8 489.7l5.7 5.7m0 -5.7l-5.7 5.7 M272.9 473.9l5.7 5.7m0 -5.7l-5.7 5.7 M255.7 475.6l5.7 5.7m0 -5.7l-5.7 5.7 M207.8 488.1l5.7 5.7m0 -5.7l-5.7 5.7 M304.7 487.1l5.7 5.7m0 -5.7l-5.7 5.7 M237.4 499.2l5.7 5.7m0 -5.7l-5.7 5.7 M188.9 479.4l5.7 5.7m0 -5.7l-5.7 5.7 M287.4 466.2l5.7 5.7m0 -5.7l-5.7 5.7 M224.3 476.6l5.7 5.7m0 -5.7l-5.7 5.7 M243.4 462.2l5.7 5.7m0 -5.7l-5.7 5.7 M183.0 477.3l5.7 5.7m0 -5.7l-5.7 5.7 M237.7 472.0l5.7 5.7m0 -5.7l-5.7 5.7 M313.9 486.6l5.7 5.7m0 -5.7l-5.7 5.7 M233.2 486.1l5.7 5.7m0 -5.7l-5.7 5.7 M209.8 482.2l5.7 5.7m0 -5.7l-5.7 5.7 M209.4 458.5l5.7 5.7m0 -5.7l-5.7 5.7 M233.4 497.4l5.7 5.7m0 -5.7l-5.7 5.7 M239.2 469.5l5.7 5.7m0 -5.7l-5.7 5.7 M269.9 474.9l5.7 5.7m0 -5.7l-5.7 5.7 M264.8 487.3l5.7 5.7m0 -5.7l-5.7 5.7 M228.1 483.0l5.7 5.7m0 -5.7l-5.7 5.7 M241.2 467.1l5.7 5.7m0 -5.7l-5.7 5.7 M244.0 493.3l5.7 5.7m0 -5.7l-5.7 5.7 M265.3 472.5l5.7 5.7m0 -5.7l-5.7 5.7 M323.4 476.3l5.7 5.7m0 -5.7l-5.7 5.7 M207.9 472.1l5.7 5.7m0 -5.7l-5.7 5.7 M255.5 481.4l5.7 5.7m0 -5.7l-5.7 5.7 M283.6 483.7l5.7 5.7m0 -5.7l-5.7 5.7 M215.8 462.0l5.7 5.7m0 -5.7l-5.7 5.7 M209.9 482.6l5.7 5.7m0 -5.7l-5.7 5.7 M271.6 482.0l5.7 5.7m0 -5.7l-5.7 5.7 M225.2 476.6l5.7 5.7m0 -5.7l-5.7 5.7 M246.6 467.5l5.7 5.7m0 -5.7l-5.7 5.7 M232.7 463.6l5.7 5.7m0 -5.7l-5.7 5.7 M219.6 462.2l5.7 5.7m0 -5.7l-5.7 5.7 M232.6 483.7l5.7 5.7m0 -5.7l-5.7 5.7 M269.5 494.7l5.7 5.7m0 -5.7l-5.7 5.7 M295.3 479.5l5.7 5.7m0 -5.7l-5.7 5.7 M216.1 465.9l5.7 5.7m0 -5.7l-5.7 5.7 M254.8 481.4l5.7 5.7m0 -5.7l-5.7 5.7 M271.0 494.1l5.7 5.7m0 -5.7l-5.7 5.7 M190.5 457.0l5.7 5.7m0 -5.7l-5.7 5.7 M280.6 491.6l5.7 5.7m0 -5.7l-5.7 5.7 M239.7 480.4l5.7 5.7m0 -5.7l-5.7 5.7 M225.8 490.5l5.7 5.7m0 -5.7l-5.7 5.7 M260.5 481.2l5.7 5.7m0 -5.7l-5.7 5.7 M224.7 487.1l5.7 5.7m0 -5.7l-5.7 5.7 M293.5 497.9l5.7 5.7m0 -5.7l-5.7 5.7 M231.0 474.2l5.7 5.7m0 -5.7l-5.7 5.7 M256.0 485.0l5.7 5.7m0 -5.7l-5.7 5.7 M296.8 481.8l5.7 5.7m0 -5.7l-5.7 5.7 M256.3 470.6l5.7 5.7m0 -5.7l-5.7 5.7 M197.5 497.7l5.7 5.7m0 -5.7l-5.7 5.7 M272.9 477.1l5.7 5.7m0 -5.7l-5.7 5.7 M212.4 484.0l5.7 5.7m0 -5.7l-5.7 5.7 M302.7 489.3l5.7 5.7m0 -5.7l-5.7 5.7 M278.1 463.1l5.7 5.7m0 -5.7l-5.7 5.7 M192.8 478.9l5.7 5.7m0 -5.7l-5.7 5.7 M230.7 462.1l5.7 5.7m0 -5.7l-5.7 5.7 M200.0 499.1l5.7 5.7m0 -5.7l-5.7 5.7 M241.1 496.9l5.7 5.7m0 -5.7l-5.7 5.7 M310.3 478.9l5.7 5.7m0 -5.7l-5.7 5.7 M285.7 481.8l5.7 5.7m0 -5.7l-5.7 5.7 M197.1 490.2l5.7 5.7m0 -5.7l-5.7 5.7 M187.5 469.4l5.7 5.7m0 -5.7l-5.7 5.7 M223.2 483.0l5.7 5.7m0 -5.7l-5.7 5.7 M268.8 496.9l5.7 5.7m0 -5.7l-5.7 5.7 M298.4 487.7l5.7 5.7m0 -5.7l-5.7 5.7 M221.2 486.7l5.7 5.7m0 -5.7l-5.7 5.7 M215.8 469.9l5.7 5.7m0 -5.7l-5.7 5.7 M268.9 470.4l5.7 5.7m0 -5.7l-5.7 5.7 M235.8 492.0l5.7 5.7m0 -5.7l-5.7 5.7 M262.0 470.6l5.7 5.7m0 -5.7l-5.7 5.7 M282.8 475.2l5.7 5.7m0 -5.7l-5.7 5.7 M231.7 493.4l5.7 5.7m0 -5.7l-5.7 5.7 M291.1 467.3l5.7 5.7m0 -5.7l-5.7 5.7 M264.6 494.7l5.7 5.7m0 -5.7l-5.7 5.7 M204.3 493.3l5.7 5.7m0 -5.7l-5.7 5.7 M197.9 456.5l5.7 5.7m0 -5.7l-5.7 5.7 M222.4 465.6l5.7 5.7m0 -5.7l-5.7 5.7 M300.3 480.4l5.7 5.7m0 -5.7l-5.7 5.7 M254.1 488.8l5.7 5.7m0 -5.7l-5.7 5.7 M292.8 485.7l5.7 5.7m0 -5.7l-5.7 5.7 M203.7 485.1l5.7 5.7m0 -5.7l-5.7 5.7 M311.6 481.9l5.7 5.7m0 -5.7l-5.7 5.7 M211.6 491.5l5.7 5.7m0 -5.7l-5.7 5.7 M238.1 474.3l5.7 5.7m0 -5.7l-5.7 5.7 M315.5 483.4l5.7 5.7m0 -5.7l-5.7 5.7 M282.1 488.6l5.7 5.7m0 -5.7l-5.7 5.7 M279.3 499.7l5.7 5.7m0 -5.7l-5.7 5.7 M279.1 465.3l5.7 5.7m0 -5.7l-5.7 5.7 M210.7 485.4l5.7 5.7m0 -5.7l-5.7 5.7 M248.4 467.1l5.7 5.7m0 -5.7l-5.7 5.7 M222.9 464.8l5.7 5.7m0 -5.7l-5.7 5.7 M297.2 474.3l5.7 5.7m0 -5.7l-5.7 5.7 M293.4 464.1l5.7 5.7m0 -5.7l-5.7 5.7 M219.2 460.1l5.7 5.7m0 -5.7l-5.7 5.7 M198.3 482.8l5.7 5.7m0 -5.7l-5.7 5.7 M283.7 466.5l5.7 5.7m0 -5.7l-5.7 5.7 M238.2 471.8l5.7 5.7m0 -5.7l-5.7 5.7 M271.6 497.3l5.7 5.7m0 -5.7l-5.7 5.7 M332.7 475.4l5.7 5.7m0 -5.7l-5.7 5.7 M303.9 493.9l5.7 5.7m0 -5.7l-5.7 5.7 M275.5 489.4l5.7 5.7m0 -5.7l-5.7 5.7 M229.0 469.5l5.7 5.7m0 -5.7l-5.7 5.7 M220.6 490.9l5.7 5.7m0 -5.7l-5.7 5.7 M232.7 492.3l5.7 5.7m0 -5.7l-5.7 5.7 M325.6 487.7l5.7 5.7m0 -5.7l-5.7 5.7 M185.6 475.8l5.7 5.7m0 -5.7l-5.7 5.7 M244.5 476.5l5.7 5.7m0 -5.7l-5.7 5.7 M230.4 461.0l5.7 5.7m0 -5.7l-5.7 5.7 M216.4 482.6l5.7 5.7m0 -5.7l-5.7 5.7 M185.6 477.4l5.7 5.7m0 -5.7l-5.7 5.7 M211.3 474.6l5.7 5.7m0 -5.7l-5.7 5.7 M302.3 492.1l5.7 5.7m0 -5.7l-5.7 5.7 M236.2 463.2l5.7 5.7m0 -5.7l-5.7 5.7 M226.0 490.3l5.7 5.7m0 -5.7l-5.7 5.7 M256.4 480.4l5.7 5.7m0 -5.7l-5.7 5.7 M249.5 499.1l5.7 5.7m0 -5.7l-5.7 5.7 M209.3 477.7l5.7 5.7m0 -5.7l-5.7 5.7 M238.7 493.5l5.7 5.7m0 -5.7l-5.7 5.7 M296.1 490.7l5.7 5.7m0 -5.7l-5.7 5.7 M297.2 484.9l5.7 5.7m0 -5.7l-5.7 5.7 M209.9 473.0l5.7 5.7m0 -5.7l-5.7 5.7 M317.4 485.5l5.7 5.7m0 -5.7l-5.7 5.7 M187.2 473.5l5.7 5.7m0 -5.7l-5.7 5.7 M314.0 484.0l5.7 5.7m0 -5.7l-5.7 5.7 M241.5 484.9l5.7 5.7m0 -5.7l-5.7 5.7 M288.4 479.2l5.7 5.7m0 -5.7l-5.7 5.7 M229.6 459.0l5.7 5.7m0 -5.7l-5.7 5.7 M265.8 481.0l5.7 5.7m0 -5.7l-5.7 5.7 M199.7 492.2l5.7 5.7m0 -5.7l-5.7 5.7 M297.3 494.8l5.7 5.7m0 -5.7l-5.7 5.7 M288.1 484.9l5.7 5.7m0 -5.7l-5.7 5.7 M246.4 485.8l5.7 5.7m0 -5.7l-5.7 5.7 M220.5 474.3l5.7 5.7m0 -5.7l-5.7 5.7 M307.7 488.0l5.7 5.7m0 -5.7l-5.7 5.7 M216.1 471.3l5.7 5.7m0 -5.7l-5.7 5.7 M202.9 476.6l5.7 5.7m0 -5.7l-5.7 5.7 M221.7 473.6l5.7 5.7m0 -5.7l-5.7 5.7 M223.6 477.2l5.7 5.7m0 -5.7l-5.7 5.7 M231.0 466.5l5.7 5.7m0 -5.7l-5.7 5.7 M218.7 491.2l5.7 5.7m0 -5.7l-5.7 5.7 M247.0 488.7l5.7 5.7m0 -5.7l-5.7 5.7 M268.0 467.3l5.7 5.7m0 -5.7l-5.7 5.7 M222.4 462.0l5.7 5.7m0 -5.7l-5.7 5.7 M305.6 491.3l5.7 5.7m0 -5.7l-5.7 5.7 M245.4 486.7l5.7 5.7m0 -5.7l-5.7 5.7 M221.1 480.4l5.7 5.7m0 -5.7l-5.7 5.7 M214.3 478.8l5.7 5.7m0 -5.7l-5.7 5.7 M312.7 491.3l5.7 5.7m0 -5.7l-5.7 5.7 M251.5 482.7l5.7 5.7m0 -5.7l-5.7 5.7 M184.3 497.8l5.7 5.7m0 -5.7l-5.7 5.7 M235.7 491.9l5.7 5.7m0 -5.7l-5.7 5.7 M207.4 478.1l5.7 5.7m0 -5.7l-5.7 5.7 M228.8 464.4l5.7 5.7m0 -5.7l-5.7 5.7 M269.9 495.8l5.7 5.7m0 -5.7l-5.7 5.7 M231.7 496.8l5.7 5.7m0 -5.7l-5.7 5.7 M253.6 460.6l5.7 5.7m0 -5.7l-5.7 5.7 M264.3 499.6l5.7 5.7m0 -5.7l-5.7 5.7 M256.5 463.9l5.7 5.7m0 -5.7l-5.7 5.7 M282.8 476.9l5.7 5.7m0 -5.7l-5.7 5.7 M250.7 465.6l5.7 5.7m0 -5.7l-5.7 5.7 M216.5 484.2l5.7 5.7m0 -5.7l-5.7 5.7 M247.9 489.0l5.7 5.7m0 -5.7l-5.7 5.7 M210.5 492.4l5.7 5.7m0 -5.7l-5.7 5.7 M323.3 491.1l5.7 5.7m0 -5.7l-5.7 5.7 M308.9 473.1l5.7 5.7m0 -5.7l-5.7 5.7 M257.8 468.7l5.7 5.7m0 -5.7l-5.7 5.7 M258.1 478.2l5.7 5.7m0 -5.7l-5.7 5.7 M252.3 466.9l5.7 5.7m0 -5.7l-5.7 5.7 M231.9 478.1l5.7 5.7m0 -5.7l-5.7 5.7 M314.0 480.1l5.7 5.7m0 -5.7l-5.7 5.7 M323.9 478.7l5.7 5.7m0 -5.7l-5.7 5.7 M292.6 487.1l5.7 5.7m0 -5.7l-5.7 5.7 M245.6 479.6l5.7 5.7m0 -5.7l-5.7 5.7 M236.4 479.8l5.7 5.7m0 -5.7l-5.7 5.7 M205.6 482.2l5.7 5.7m0 -5.7l-5.7 5.7 M311.4 485.6l5.7 5.7m0 -5.7l-5.7 5.7 M231.4 489.8l5.7 5.7m0 -5.7l-5.7 5.7 M196.9 486.7l5.7 5.7m0 -5.7l-5.7 5.7 M214.0 482.8l5.7 5.7m0 -5.7l-5.7 5.7 M272.3 471.7l5.7 5.7m0 -5.7l-5.7 5.7 M307.4 475.9l5.7 5.7m0 -5.7l-5.7 5.7 M327.3 473.3l5.7 5.7m0 -5.7l-5.7 5.7 M320.8 482.9l5.7 5.7m0 -5.7l-5.7 5.7 M297.6 488.7l5.7 5.7m0 -5.7l-5.7 5.7 M231.4 499.7l5.7 5.7m0 -5.7l-5.7 5.7 M240.7 469.6l5.7 5.7m0 -5.7l-5.7 5.7 M256.4 484.2l5.7 5.7m0 -5.7l-5.7 5.7 M293.4 466.4l5.7 5.7m0 -5.7l-5.7 5.7 M270.5 473.5l5.7 5.7m0 -5.7l-5.7 5.7 M224.3 486.5l5.7 5.7m0 -5.7l-5.7 5.7 M307.0 472.6l5.7 5.7m0 -5.7l-5.7 5.7 M338.2 477.5l5.7 5.7m0 -5.7l-5.7 5.7 M276.7 499.3l5.7 5.7m0 -5.7l-5.7 5.7 M237.1 499.2l5.7 5.7m0 -5.7l-5.7 5.7 M267.5 494.1l5.7 5.7m0 -5.7l-5.7 5.7 M268.5 488.3l5.7 5.7m0 -5.7l-5.7 5.7 M245.4 485.9l5.7 5.7m0 -5.7l-5.7 5.7 M318.3 494.5l5.7 5.7m0 -5.7l-5.7 5.7 M212.1 472.2l5.7 5.7m0 -5.7l-5.7 5.7 M287.2 498.3l5.7 5.7m0 -5.7l-5.7 5.7 M294.6 485.9l5.7 5.7m0 -5.7l-5.7 5.7 M278.6 469.5l5.7 5.7m0 -5.7l-5.7 5.7 M251.3 469.6l5.7 5.7m0 -5.7l-5.7 5.7 M319.4 479.8l5.7 5.7m0 -5.7l-5.7 5.7 M276.6 469.5l5.7 5.7m0 -5.7l-5.7 5.7 M279.9 491.5l5.7 5.7m0 -5.7l-5.7 5.7 M269.4 476.7l5.7 5.7m0 -5.7l-5.7 5.7 M237.1 484.1l5.7 5.7m0 -5.7l-5.7 5.7 M260.7 494.8l5.7 5.7m0 -5.7l-5.7 5.7 M227.5 467.2l5.7 5.7m0 -5.7l-5.7 5.7 M294.3 499.3l5.7 5.7m0 -5.7l-5.7 5.7 M306.1 489.9l5.7 5.7m0 -5.7l-5.7 5.7 M220.7 486.4l5.7 5.7m0 -5.7l-5.7 5.7 M233.1 489.9l5.7 5.7m0 -5.7l-5.7 5.7 M236.8 479.4l5.7 5.7m0 -5.7l-5.7 5.7 M229.3 478.6l5.7 5.7m0 -5.7l-5.7 5.7 M303.9 494.5l5.7 5.7m0 -5.7l-5.7 5.7 M303.6 476.4l5.7 5.7m0 -5.7l-5.7 5.7 M265.9 499.4l5.7 5.7m0 -5.7l-5.7 5.7 M236.9 495.6l5.7 5.7m0 -5.7l-5.7 5.7 M275.4 475.1l5.7 5.7m0 -5.7l-5.7 5.7 M226.2 482.9l5.7 5.7m0 -5.7l-5.7 5.7 M298.0 498.4l5.7 5.7m0 -5.7l-5.7 5.7 M330.1 486.0l5.7 5.7m0 -5.7l-5.7 5.7 M201.6 463.2l5.7 5.7m0 -5.7l-5.7 5.7 M268.2 469.3l5.7 5.7m0 -5.7l-5.7 5.7 M289.1 497.6l5.7 5.7m0 -5.7l-5.7 5.7 M231.8 458.9l5.7 5.7m0 -5.7l-5.7 5.7 M236.6 494.2l5.7 5.7m0 -5.7l-5.7 5.7 M304.1 485.2l5.7 5.7m0 -5.7l-5.7 5.7 M284.8 474.9l5.7 5.7m0 -5.7l-5.7 5.7 M209.2 462.7l5.7 5.7m0 -5.7l-5.7 5.7 M316.8 476.5l5.7 5.7m0 -5.7l-5.7 5.7 M279.7 479.0l5.7 5.7m0 -5.7l-5.7 5.7 M219.5 473.5l5.7 5.7m0 -5.7l-5.7 5.7 M284.4 477.8l5.7 5.7m0 -5.7l-5.7 5.7 M299.4 494.9l5.7 5.7m0 -5.7l-5.7 5.7 M303.3 486.0l5.7 5.7m0 -5.7l-5.7 5.7 M275.3 481.9l5.7 5.7m0 -5.7l-5.7 5.7 M208.0 477.1l5.7 5.7m0 -5.7l-5.7 5.7 M179.7 461.5l5.7 5.7m0 -5.7l-5.7 5.7 M228.5 470.7l5.7 5.7m0 -5.7l-5.7 5.7 M292.4 492.1l5.7 5.7m0 -5.7l-5.7 5.7 M259.8 488.5l5.7 5.7m0 -5.7l-5.7 5.7 M259.0 469.1l5.7 5.7m0 -5.7l-5.7 5.7 M208.0 494.6l5.7 5.7m0 -5.7l-5.7 5.7 M200.7 489.4l5.7 5.7m0 -5.7l-5.7 5.7 M223.5 481.7l5.7 5.7m0 -5.7l-5.7 5.7 M236.2 483.5l5.7 5.7m0 -5.7l-5.7 5.7 M207.3 481.8l5.7 5.7m0 -5.7l-5.7 5.7 M208.8 463.1l5.7 5.7m0 -5.7l-5.7 5.7 M254.3 478.8l5.7 5.7m0 -5.7l-5.7 5.7 M225.3 482.5l5.7 5.7m0 -5.7l-5.7 5.7 M260.5 493.5l5.7 5.7m0 -5.7l-5.7 5.7 M232.9 484.0l5.7 5.7m0 -5.7l-5.7 5.7 M247.2 487.7l5.7 5.7m0 -5.7l-5.7 5.7 M198.2 465.0l5.7 5.7m0 -5.7l-5.7 5.7 M309.7 485.5l5.7 5.7m0 -5.7l-5.7 5.7 M279.4 491.4l5.7 5.7m0 -5.7l-5.7 5.7 M266.6 482.2l5.7 5.7m0 -5.7l-5.7 5.7 M261.7 488.5l5.7 5.7m0 -5.7l-5.7 5.7 M196.5 488.1l5.7 5.7m0 -5.7l-5.7 5.7 M316.5 498.3l5.7 5.7m0 -5.7l-5.7 5.7 M259.1 490.4l5.7 5.7m0 -5.7l-5.7 5.7 M327.9 481.2l5.7 5.7m0 -5.7l-5.7 5.7 M241.5 498.6l5.7 5.7m0 -5.7l-5.7 5.7 M234.5 463.9l5.7 5.7m0 -5.7l-5.7 5.7 M247.4 480.6l5.7 5.7m0 -5.7l-5.7 5.7 M235.9 487.3l5.7 5.7m0 -5.7l-5.7 5.7 M288.1 479.9l5.7 5.7m0 -5.7l-5.7 5.7 M273.6 467.7l5.7 5.7m0 -5.7l-5.7 5.7 M232.2 474.2l5.7 5.7m0 -5.7l-5.7 5.7 M340.2 486.6l5.7 5.7m0 -5.7l-5.7 5.7 M303.0 475.8l5.7 5.7m0 -5.7l-5.7 5.7 M341.5 479.5l5.7 5.7m0 -5.7l-5.7 5.7 M249.9 474.7l5.7 5.7m0 -5.7l-5.7 5.7 M197.8 483.2l5.7 5.7m0 -5.7l-5.7 5.7 M257.9 477.9l5.7 5.7m0 -5.7l-5.7 5.7 M270.3 491.7l5.7 5.7m0 -5.7l-5.7 5.7 M231.5 478.5l5.7 5.7m0 -5.7l-5.7 5.7 M277.7 488.9l5.7 5.7m0 -5.7l-5.7 5.7 M241.4 475.1l5.7 5.7m0 -5.7l-5.7 5.7 M252.5 461.8l5.7 5.7m0 -5.7l-5.7 5.7 M298.6 481.1l5.7 5.7m0 -5.7l-5.7 5.7 M274.9 493.9l5.7 5.7m0 -5.7l-5.7 5.7 M308.0 491.0l5.7 5.7m0 -5.7l-5.7 5.7 M292.4 488.3l5.7 5.7m0 -5.7l-5.7 5.7 M242.2 492.9l5.7 5.7m0 -5.7l-5.7 5.7 M282.0 495.8l5.7 5.7m0 -5.7l-5.7 5.7 M245.8 465.7l5.7 5.7m0 -5.7l-5.7 5.7 M286.5 475.1l5.7 5.7m0 -5.7l-5.7 5.7 M270.2 490.1l5.7 5.7m0 -5.7l-5.7 5.7 M329.9 480.9l5.7 5.7m0 -5.7l-5.7 5.7 M318.5 491.5l5.7 5.7m0 -5.7l-5.7 5.7 M261.7 479.7l5.7 5.7m0 -5.7l-5.7 5.7 M198.9 498.0l5.7 5.7m0 -5.7l-5.7 5.7 M305.6 496.5l5.7 5.7m0 -5.7l-5.7 5.7 M227.2 474.6l5.7 5.7m0 -5.7l-5.7 5.7 M266.4 475.9l5.7 5.7m0 -5.7l-5.7 5.7 M210.8 468.5l5.7 5.7m0 -5.7l-5.7 5.7 M215.2 489.1l5.7 5.7m0 -5.7l-5.7 5.7 M274.6 477.6l5.7 5.7m0 -5.7l-5.7 5.7 M267.8 476.2l5.7 5.7m0 -5.7l-5.7 5.7 M289.8 461.8l5.7 5.7m0 -5.7l-5.7 5.7 M287.4 472.3l5.7 5.7m0 -5.7l-5.7 5.7 M228.8 482.6l5.7 5.7m0 -5.7l-5.7 5.7 M299.4 493.5l5.7 5.7m0 -5.7l-5.7 5.7 M258.6 478.7l5.7 5.7m0 -5.7l-5.7 5.7 M210.4 463.6l5.7 5.7m0 -5.7l-5.7 5.7 M261.9 473.7l5.7 5.7m0 -5.7l-5.7 5.7 M262.5 463.7l5.7 5.7m0 -5.7l-5.7 5.7 M228.0 489.3l5.7 5.7m0 -5.7l-5.7 5.7 M267.6 492.8l5.7 5.7m0 -5.7l-5.7 5.7 M309.6 499.1l5.7 5.7m0 -5.7l-5.7 5.7 M284.1 490.0l5.7 5.7m0 -5.7l-5.7 5.7 M222.5 492.0l5.7 5.7m0 -5.7l-5.7 5.7 M316.0 494.6l5.7 5.7m0 -5.7l-5.7 5.7 M205.4 472.0l5.7 5.7m0 -5.7l-5.7 5.7 M280.1 474.6l5.7 5.7m0 -5.7l-5.7 5.7 M213.8 479.9l5.7 5.7m0 -5.7l-5.7 5.7 M189.7 479.7l5.7 5.7m0 -5.7l-5.7 5.7 M284.0 494.3l5.7 5.7m0 -5.7l-5.7 5.7 M274.2 481.2l5.7 5.7m0 -5.7l-5.7 5.7 M309.6 482.0l5.7 5.7m0 -5.7l-5.7 5.7 M245.9 484.8l5.7 5.7m0 -5.7l-5.7 5.7 M251.0 492.4l5.7 5.7m0 -5.7l-5.7 5.7 M294.1 479.7l5.7 5.7m0 -5.7l-5.7 5.7 M201.6 466.0l5.7 5.7m0 -5.7l-5.7 5.7 M213.4 462.5l5.7 5.7m0 -5.7l-5.7 5.7 M305.0 496.9l5.7 5.7m0 -5.7l-5.7 5.7 M271.4 470.8l5.7 5.7m0 -5.7l-5.7 5.7 M321.8 467.9l5.7 5.7m0 -5.7l-5.7 5.7 M191.0 496.0l5.7 5.7m0 -5.7l-5.7 5.7 M315.4 480.2l5.7 5.7m0 -5.7l-5.7 5.7 M283.3 496.8l5.7 5.7m0 -5.7l-5.7 5.7 M269.2 490.0l5.7 5.7m0 -5.7l-5.7 5.7 M338.8 468.7l5.7 5.7m0 -5.7l-5.7 5.7 M332.3 490.7l5.7 5.7m0 -5.7l-5.7 5.7 M302.5 477.7l5.7 5.7m0 -5.7l-5.7 5.7 M177.6 466.1l5.7 5.7m0 -5.7l-5.7 5.7 M279.0 489.5l5.7 5.7m0 -5.7l-5.7 5.7 M332.3 484.4l5.7 5.7m0 -5.7l-5.7 5.7 M236.9 487.1l5.7 5.7m0 -5.7l-5.7 5.7 M294.6 494.6l5.7 5.7m0 -5.7l-5.7 5.7 M263.7 476.4l5.7 5.7m0 -5.7l-5.7 5.7 M286.4 462.9l5.7 5.7m0 -5.7l-5.7 5.7 M271.7 480.8l5.7 5.7m0 -5.7l-5.7 5.7 M211.3 473.7l5.7 5.7m0 -5.7l-5.7 5.7 M190.3 480.1l5.7 5.7m0 -5.7l-5.7 5.7" stroke="#55a868" stroke-width="3.0" stroke-linecap="butt" fill="none"/>
<path d="M194.2 330.2L545.6 281.5" stroke="#000" stroke-width="8.2" stroke-dasharray="16.9 16.5" fill="none"/>
<path d="M179.4 324.9L444.2 274.6" stroke="#000" stroke-width="8.2" stroke-dasharray="3 8.1" fill="none"/>
<path d="M194.2 435.5L545.6 453.5" stroke="#000" stroke-width="8.2" stroke-dasharray="16.9 16.5" fill="none"/>
<path d="M179.4 475.6L444.2 498.8" stroke="#000" stroke-width="8.2" stroke-dasharray="3 8.1" fill="none"/>
<rect x="111.0" y="27.9" width="547.4" height="499.1" fill="none" stroke="#262626" stroke-width="3.2"/>
<path d="M111.00 527.0 v16.9 M111.00 27.9 v-16.9 M179.43 527.0 v16.9 M179.43 27.9 v-16.9 M247.85 527.0 v16.9 M247.85 27.9 v-16.9 M316.27 527.0 v16.9 M316.27 27.9 v-16.9 M384.70 527.0 v16.9 M384.70 27.9 v-16.9 M453.12 527.0 v16.9 M453.12 27.9 v-16.9 M521.55 527.0 v16.9 M521.55 27.9 v-16.9 M589.97 527.0 v16.9 M589.97 27.9 v-16.9 M111.0 527.00 h-16.9 M658.4 527.00 h18.9 M111.0 427.18 h-16.9 M658.4 427.18 h18.9 M111.0 327.36 h-16.9 M658.4 327.36 h18.9 M111.0 227.54 h-16.9 M658.4 227.54 h18.9 M111.0 127.72 h-16.9 M658.4 127.72 h18.9 M111.0 27.90 h-16.9 M658.4 27.90 h18.9" stroke="#262626" stroke-width="2.15" fill="none"/>
<text transform="translate(111.00,583.60) scale(1.04,1)" font-size="27.0" text-anchor="middle" fill="#262626" stroke="#262626" stroke-width="0.35">1</text>
<text transform="translate(179.43,583.60) scale(1.04,1)" font-size="27.0" text-anchor="middle" fill="#262626" stroke="#262626" stroke-width="0.35">2</text>
<text transform="translate(247.85,583.60) scale(1.04,1)" font-size="27.0" text-anchor="middle" fill="#262626" stroke="#262626" stroke-width="0.35">3</text>
<text transform="translate(316.27,583.60) scale(1.04,1)" font-size="27.0" text-anchor="middle" fill="#262626" stroke="#262626" stroke-width="0.35">4</text>
<text transform="translate(384.70,583.60) scale(1.04,1)" font-size="27.0" text-anchor="middle" fill="#262626" stroke="#262626" stroke-width="0.35">5</text>
<text transform="translate(453.12,583.60) scale(1.04,1)" font-size="27.0" text-anchor="middle" fill="#262626" stroke="#262626" stroke-width="0.35">6</text>
<text transform="translate(521.55,583.60) scale(1.04,1)" font-size="27.0" text-anchor="middle" fill="#262626" stroke="#262626" stroke-width="0.35">7</text>
<text transform="translate(589.97,583.60) scale(1.04,1)" font-size="27.0" text-anchor="middle" fill="#262626" stroke="#262626" stroke-width="0.35">8</text>
<text transform="translate(658.40,583.60) scale(1.04,1)" font-size="27.0" text-anchor="middle" fill="#262626" stroke="#262626" stroke-width="0.35">9</text>
<text transform="translate(75.00,534.30) scale(1.04,1)" font-size="27.0" text-anchor="end" fill="#262626" stroke="#262626" stroke-width="0.35">0.0</text>
<text transform="translate(75.00,434.48) scale(1.04,1)" font-size="27.0" text-anchor="end" fill="#262626" stroke="#262626" stroke-width="0.35">0.2</text>
<text transform="translate(75.00,334.66) scale(1.04,1)" font-size="27.0" text-anchor="end" fill="#262626" stroke="#262626" stroke-width="0.35">0.4</text>
<text transform="translate(75.00,234.84) scale(1.04,1)" font-size="27.0" text-anchor="end" fill="#262626" stroke="#262626" stroke-width="0.35">0.6</text>
<text transform="translate(75.00,135.02) scale(1.04,1)" font-size="27.0" text-anchor="end" fill="#262626" stroke="#262626" stroke-width="0.35">0.8</text>
<text transform="translate(75.00,35.20) scale(1.04,1)" font-size="27.0" text-anchor="end" fill="#262626" stroke="#262626" stroke-width="0.35">1.0</text>
<text transform="translate(111.70,19.00) scale(1.04,1)" font-size="27.0" text-anchor="start" fill="#262626" stroke="#262626" stroke-width="0.35">1e−2</text>
<text transform="translate(659.00,617.50) scale(1.04,1)" font-size="27.0" text-anchor="end" fill="#262626" stroke="#262626" stroke-width="0.35">1e−4</text>
<text transform="translate(384.10,622.70) scale(1.03584,1)" font-size="27.0" text-anchor="middle" fill="#262626" stroke="#262626" stroke-width="0.35">Duration Δt (s)</text>
<text transform="translate(20.00,280.00) rotate(-90) scale(1.02024,1)" font-size="27.0" text-anchor="middle" fill="#262626" stroke="#262626" stroke-width="0.35">Amplitude ΔI/I<tspan font-size="17.8" dy="2.8">p</tspan></text>
<path d="M131 57H175.7" stroke="#000" stroke-width="8.2" stroke-dasharray="17 16.2" fill="none"/>
<path d="M131 90.3H168" stroke="#000" stroke-width="8.2" stroke-dasharray="3 8.1" fill="none"/>
<path d="M153.0 125.8h0" stroke="#4c72b0" stroke-width="6.2" stroke-linecap="round" fill="none"/>
<path d="M153.0 158.9h0" stroke="#55a868" stroke-width="6.2" stroke-linecap="round" fill="none"/>
<text transform="translate(193.00,64.20) scale(1.05,1)" font-size="21.4" text-anchor="start" fill="#262626" stroke="#262626" stroke-width="0.35">17.<tspan dx="3.0">5/30 µm fit</tspan></text>
<text transform="translate(193.00,97.50) scale(1.05,1)" font-size="21.4" text-anchor="start" fill="#262626" stroke="#262626" stroke-width="0.35">20/50 µm fit</text>
<text transform="translate(193.00,130.60) scale(1.05,1)" font-size="21.4" text-anchor="start" fill="#262626" stroke="#262626" stroke-width="0.35">17.<tspan dx="3.0">5/30 µm  (421)</tspan></text>
<text transform="translate(193.00,164.60) scale(1.05,1)" font-size="21.4" text-anchor="start" fill="#262626" stroke="#262626" stroke-width="0.35">20/50 µm    (507)</text>
<text transform="translate(443.20,256.50) scale(1.025,1)" font-size="27.1" text-anchor="start" fill="#262626" font-weight="bold">slope=2.6</text>
<text transform="translate(512.30,328.90) scale(1.025,1)" font-size="27.1" text-anchor="start" fill="#262626" font-weight="bold">slope=1.9</text>
<text transform="translate(501.60,430.70) scale(1.025,1)" font-size="27.1" text-anchor="start" fill="#262626" font-weight="bold">slope=-0.7</text>
<text transform="translate(443.40,514.50) scale(1.025,1)" font-size="27.1" text-anchor="start" fill="#262626" font-weight="bold">slope=-1.2</text>
</svg>
</body></html>
